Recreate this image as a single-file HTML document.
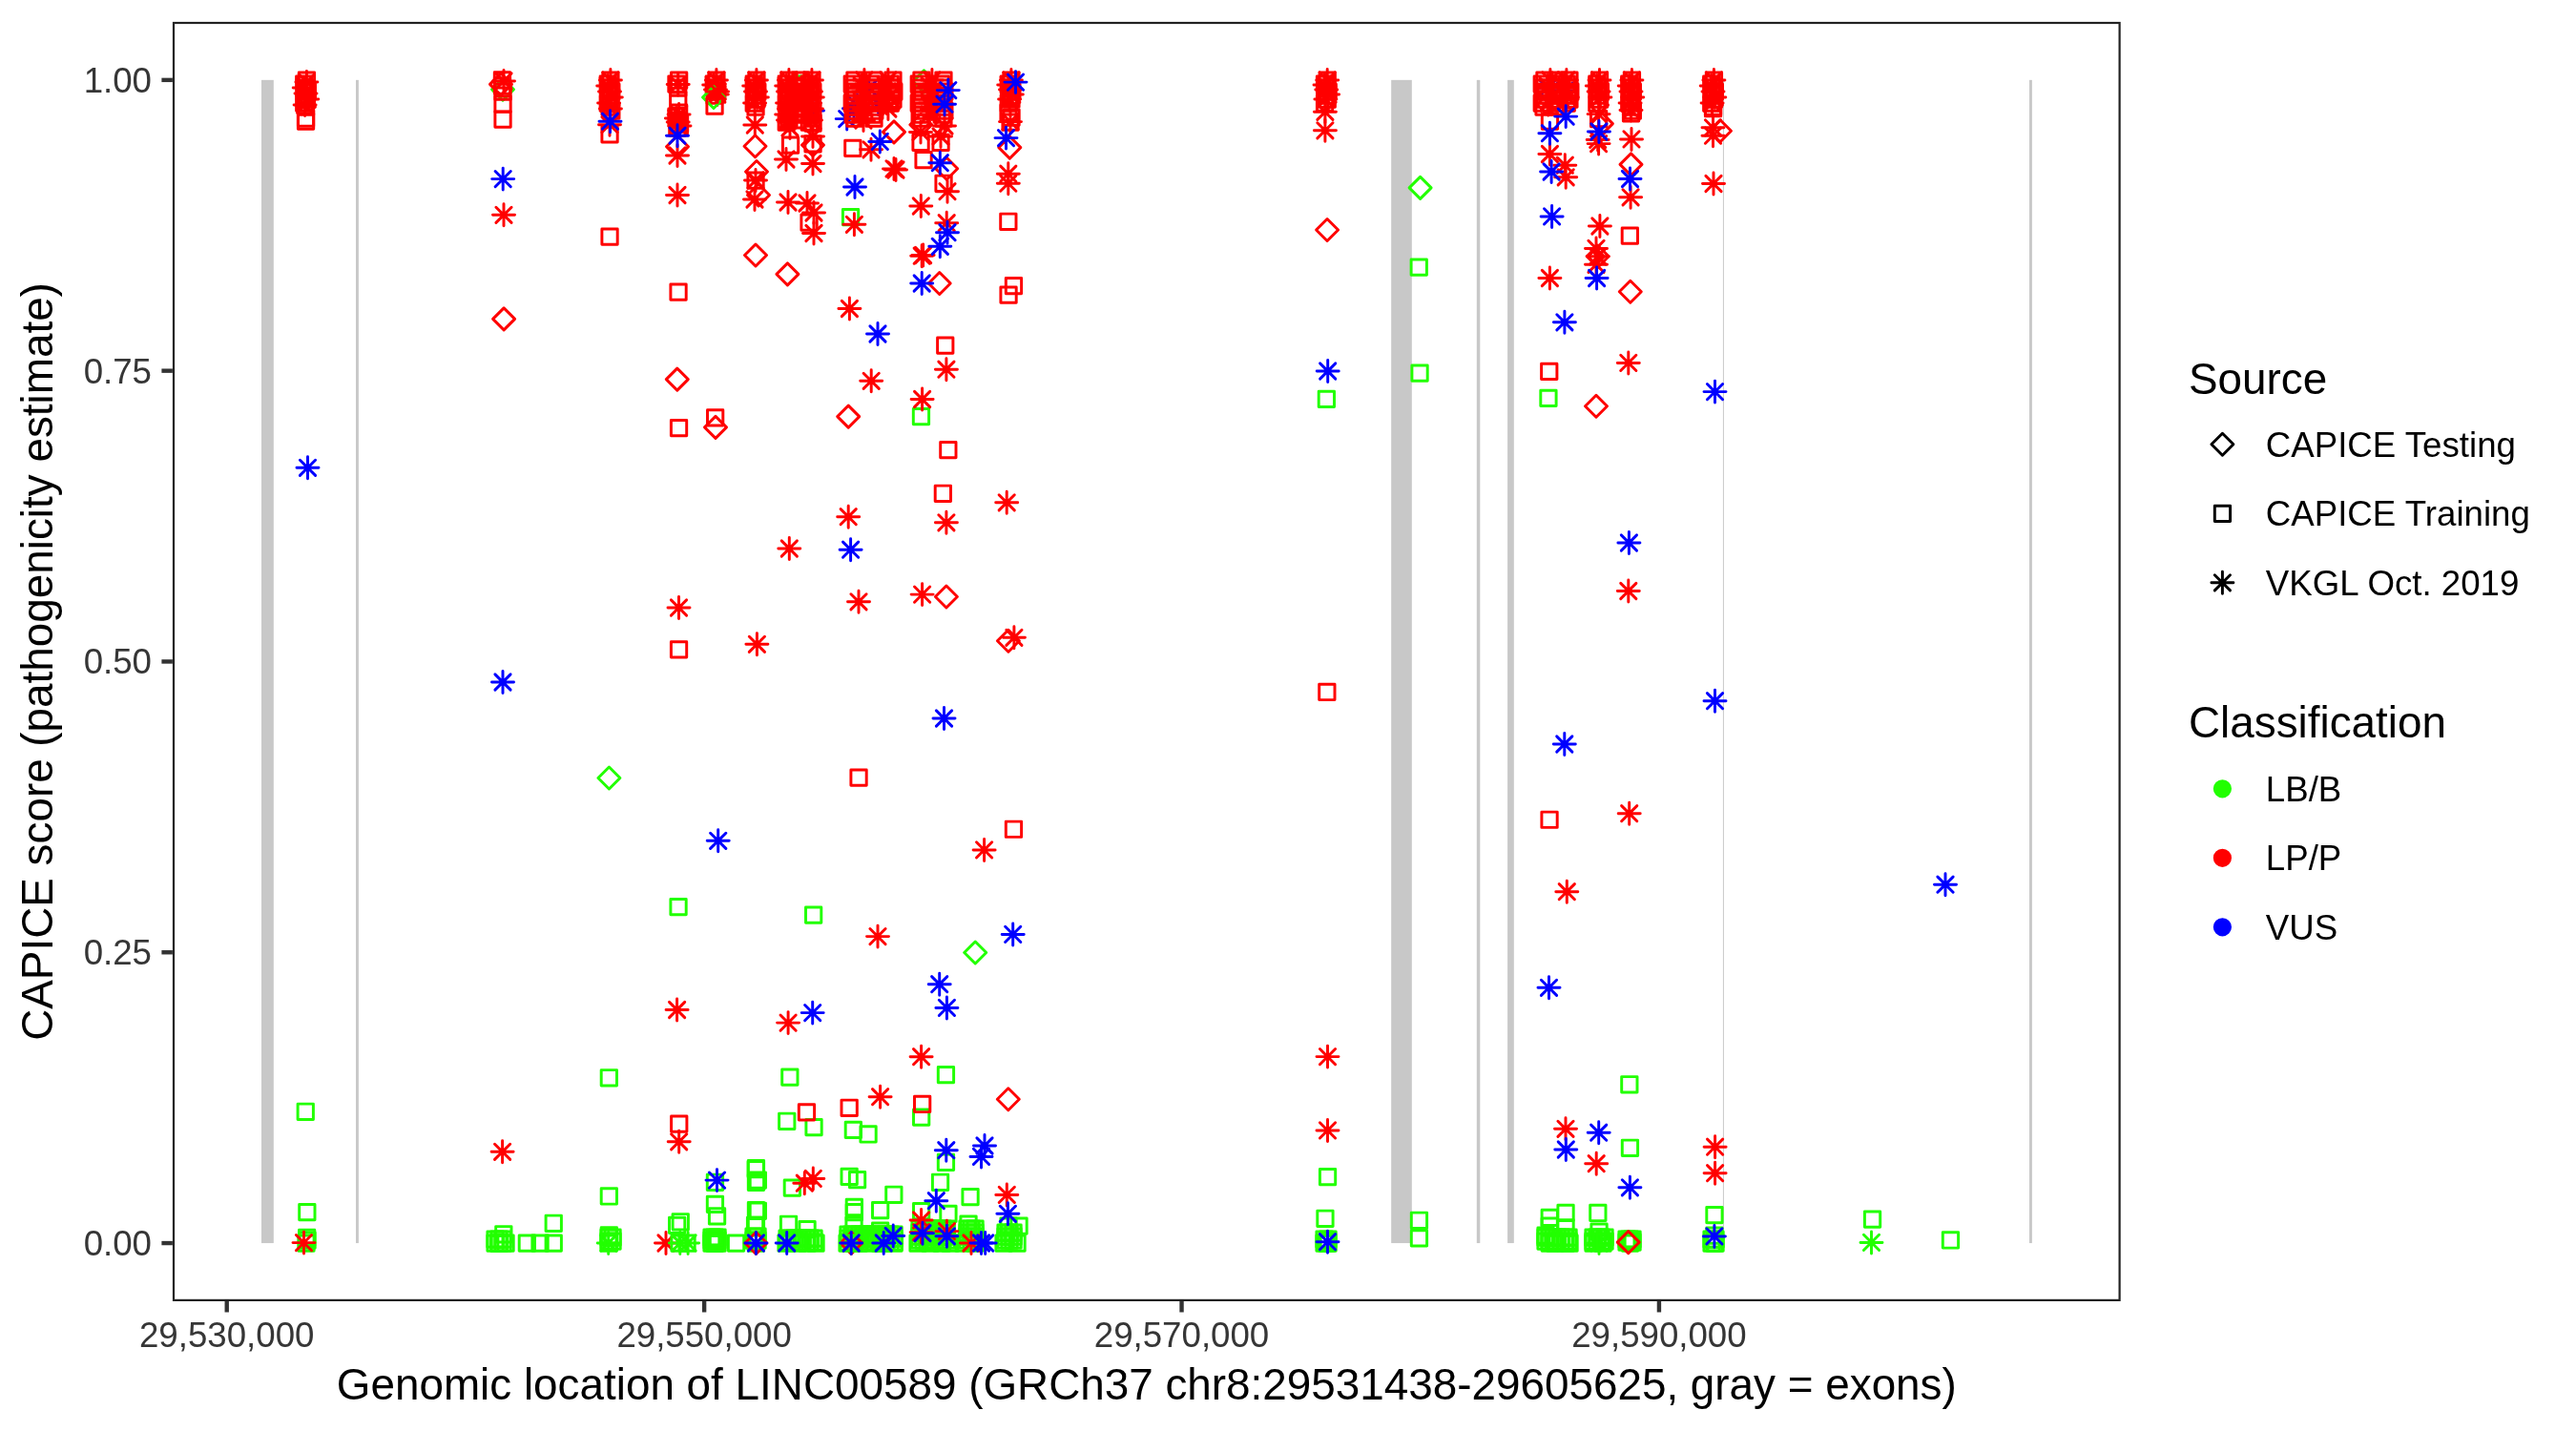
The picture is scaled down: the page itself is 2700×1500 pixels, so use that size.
<!DOCTYPE html><html><head><meta charset="utf-8"><style>html,body{margin:0;padding:0;background:#fff;}svg{display:block;}text{font-family:"Liberation Sans",sans-serif;}svg{will-change:transform;}</style></head><body>
<svg width="2700" height="1500" viewBox="0 0 2700 1500">
<rect x="0" y="0" width="2700" height="1500" fill="#fff"/>
<rect x="274.00" y="83.86" width="12.80" height="1219.20" fill="#C8C8C8"/>
<rect x="373.00" y="83.86" width="2.90" height="1219.20" fill="#C8C8C8"/>
<rect x="1458.20" y="83.86" width="21.60" height="1219.20" fill="#C8C8C8"/>
<rect x="1547.80" y="83.86" width="3.50" height="1219.20" fill="#C8C8C8"/>
<rect x="1580.10" y="83.86" width="6.70" height="1219.20" fill="#C8C8C8"/>
<rect x="1805.90" y="83.86" width="1.00" height="1219.20" fill="#C8C8C8"/>
<rect x="2127.00" y="83.86" width="2.90" height="1219.20" fill="#C8C8C8"/>
<g fill="none" stroke-width="2.95" stroke-linecap="round" stroke-linejoin="round">
<path d="M527.0 82.3L538.5 93.8L527.0 105.3L515.5 93.8Z" stroke="#22FF00"/>
<rect x="833.9" y="79.9" width="16.3" height="16.3" stroke="#22FF00"/>
<rect x="883.4" y="219.5" width="16.3" height="16.3" stroke="#22FF00"/>
<path d="M968.4 73.9L979.9 85.4L968.4 96.9L956.9 85.4Z" stroke="#22FF00"/>
<rect x="957.3" y="428.5" width="16.3" height="16.3" stroke="#22FF00"/>
<path d="M638.4 804.0L649.9 815.5L638.4 827.0L626.9 815.5Z" stroke="#22FF00"/>
<rect x="702.9" y="942.5" width="16.3" height="16.3" stroke="#22FF00"/>
<rect x="844.5" y="950.9" width="16.3" height="16.3" stroke="#22FF00"/>
<path d="M1022.2 987.0L1033.7 998.5L1022.2 1010.0L1010.7 998.5Z" stroke="#22FF00"/>
<rect x="630.2" y="1121.6" width="16.3" height="16.3" stroke="#22FF00"/>
<rect x="741.3" y="1231.1" width="16.3" height="16.3" stroke="#22FF00"/>
<rect x="630.2" y="1245.8" width="16.3" height="16.3" stroke="#22FF00"/>
<rect x="514.9" y="1294.9" width="16.3" height="16.3" stroke="#22FF00"/>
<rect x="521.9" y="1294.9" width="16.3" height="16.3" stroke="#22FF00"/>
<rect x="519.7" y="1285.6" width="16.3" height="16.3" stroke="#22FF00"/>
<rect x="544.2" y="1294.9" width="16.3" height="16.3" stroke="#22FF00"/>
<rect x="557.9" y="1294.9" width="16.3" height="16.3" stroke="#22FF00"/>
<rect x="572.1" y="1294.9" width="16.3" height="16.3" stroke="#22FF00"/>
<rect x="572.1" y="1274.1" width="16.3" height="16.3" stroke="#22FF00"/>
<rect x="630.2" y="1294.9" width="16.3" height="16.3" stroke="#22FF00"/>
<rect x="630.2" y="1286.7" width="16.3" height="16.3" stroke="#22FF00"/>
<path d="M629.6 1294.9L645.8 1311.1M629.6 1311.1L645.8 1294.9M626.2 1303.0L649.2 1303.0M637.7 1291.5L637.7 1314.5" stroke="#22FF00"/>
<path d="M689.9 1294.9L706.1 1311.1M689.9 1311.1L706.1 1294.9M686.5 1303.0L709.5 1303.0M698.0 1291.5L698.0 1314.5" stroke="#FF0000"/>
<rect x="701.5" y="1276.2" width="16.3" height="16.3" stroke="#22FF00"/>
<rect x="705.1" y="1272.6" width="16.3" height="16.3" stroke="#22FF00"/>
<rect x="703.9" y="1294.9" width="16.3" height="16.3" stroke="#22FF00"/>
<rect x="711.9" y="1294.9" width="16.3" height="16.3" stroke="#22FF00"/>
<path d="M704.7 1294.9L720.9 1311.1M704.7 1311.1L720.9 1294.9M701.3 1303.0L724.3 1303.0M712.8 1291.5L712.8 1314.5" stroke="#22FF00"/>
<path d="M713.0 1294.9L729.2 1311.1M713.0 1311.1L729.2 1294.9M709.6 1303.0L732.6 1303.0M721.1 1291.5L721.1 1314.5" stroke="#22FF00"/>
<rect x="741.3" y="1254.2" width="16.3" height="16.3" stroke="#22FF00"/>
<rect x="743.4" y="1266.7" width="16.3" height="16.3" stroke="#22FF00"/>
<rect x="741.3" y="1294.9" width="16.3" height="16.3" stroke="#22FF00"/>
<rect x="763.4" y="1294.9" width="16.3" height="16.3" stroke="#22FF00"/>
<rect x="784.3" y="1216.4" width="16.3" height="16.3" stroke="#22FF00"/>
<rect x="784.3" y="1231.1" width="16.3" height="16.3" stroke="#22FF00"/>
<rect x="784.3" y="1260.5" width="16.3" height="16.3" stroke="#22FF00"/>
<rect x="784.3" y="1276.2" width="16.3" height="16.3" stroke="#22FF00"/>
<rect x="784.3" y="1294.9" width="16.3" height="16.3" stroke="#22FF00"/>
<rect x="819.7" y="1121.0" width="16.3" height="16.3" stroke="#22FF00"/>
<rect x="983.3" y="1118.5" width="16.3" height="16.3" stroke="#22FF00"/>
<rect x="816.6" y="1167.1" width="16.3" height="16.3" stroke="#22FF00"/>
<rect x="844.9" y="1173.4" width="16.3" height="16.3" stroke="#22FF00"/>
<rect x="886.2" y="1176.2" width="16.3" height="16.3" stroke="#22FF00"/>
<rect x="901.9" y="1180.8" width="16.3" height="16.3" stroke="#22FF00"/>
<rect x="957.5" y="1162.9" width="16.3" height="16.3" stroke="#22FF00"/>
<rect x="983.3" y="1210.1" width="16.3" height="16.3" stroke="#22FF00"/>
<rect x="784.1" y="1217.5" width="16.3" height="16.3" stroke="#22FF00"/>
<rect x="786.2" y="1229.0" width="16.3" height="16.3" stroke="#22FF00"/>
<rect x="822.2" y="1237.0" width="16.3" height="16.3" stroke="#22FF00"/>
<rect x="882.0" y="1225.2" width="16.3" height="16.3" stroke="#22FF00"/>
<rect x="890.4" y="1228.4" width="16.3" height="16.3" stroke="#22FF00"/>
<rect x="977.4" y="1231.1" width="16.3" height="16.3" stroke="#22FF00"/>
<rect x="928.7" y="1244.1" width="16.3" height="16.3" stroke="#22FF00"/>
<rect x="1008.9" y="1246.4" width="16.3" height="16.3" stroke="#22FF00"/>
<rect x="786.2" y="1261.1" width="16.3" height="16.3" stroke="#22FF00"/>
<rect x="783.4" y="1276.2" width="16.3" height="16.3" stroke="#22FF00"/>
<rect x="887.2" y="1257.3" width="16.3" height="16.3" stroke="#22FF00"/>
<rect x="887.2" y="1262.5" width="16.3" height="16.3" stroke="#22FF00"/>
<rect x="886.9" y="1275.9" width="16.3" height="16.3" stroke="#22FF00"/>
<rect x="886.9" y="1294.9" width="16.3" height="16.3" stroke="#22FF00"/>
<rect x="914.5" y="1260.5" width="16.3" height="16.3" stroke="#22FF00"/>
<rect x="914.5" y="1281.9" width="16.3" height="16.3" stroke="#22FF00"/>
<rect x="914.5" y="1294.9" width="16.3" height="16.3" stroke="#22FF00"/>
<rect x="957.5" y="1261.5" width="16.3" height="16.3" stroke="#22FF00"/>
<rect x="985.8" y="1264.2" width="16.3" height="16.3" stroke="#22FF00"/>
<rect x="818.4" y="1275.1" width="16.3" height="16.3" stroke="#22FF00"/>
<rect x="837.9" y="1280.4" width="16.3" height="16.3" stroke="#22FF00"/>
<rect x="815.9" y="1294.9" width="16.3" height="16.3" stroke="#22FF00"/>
<rect x="827.9" y="1294.9" width="16.3" height="16.3" stroke="#22FF00"/>
<rect x="837.9" y="1294.9" width="16.3" height="16.3" stroke="#22FF00"/>
<rect x="846.9" y="1294.9" width="16.3" height="16.3" stroke="#22FF00"/>
<rect x="903.9" y="1294.9" width="16.3" height="16.3" stroke="#22FF00"/>
<rect x="916.9" y="1294.9" width="16.3" height="16.3" stroke="#22FF00"/>
<rect x="928.9" y="1294.9" width="16.3" height="16.3" stroke="#22FF00"/>
<rect x="953.9" y="1294.9" width="16.3" height="16.3" stroke="#22FF00"/>
<rect x="966.9" y="1294.9" width="16.3" height="16.3" stroke="#22FF00"/>
<rect x="978.9" y="1294.9" width="16.3" height="16.3" stroke="#22FF00"/>
<rect x="987.9" y="1294.9" width="16.3" height="16.3" stroke="#22FF00"/>
<rect x="1001.9" y="1294.9" width="16.3" height="16.3" stroke="#22FF00"/>
<rect x="1013.9" y="1294.9" width="16.3" height="16.3" stroke="#22FF00"/>
<rect x="1006.9" y="1274.9" width="16.3" height="16.3" stroke="#22FF00"/>
<rect x="1043.9" y="1294.9" width="16.3" height="16.3" stroke="#22FF00"/>
<rect x="1057.9" y="1294.9" width="16.3" height="16.3" stroke="#22FF00"/>
<rect x="1048.9" y="1276.9" width="16.3" height="16.3" stroke="#22FF00"/>
<rect x="1059.9" y="1276.9" width="16.3" height="16.3" stroke="#22FF00"/>
<rect x="312.1" y="1157.1" width="16.3" height="16.3" stroke="#22FF00"/>
<rect x="313.7" y="1262.4" width="16.3" height="16.3" stroke="#22FF00"/>
<rect x="313.5" y="1289.2" width="16.3" height="16.3" stroke="#22FF00"/>
<rect x="312.8" y="1294.9" width="16.3" height="16.3" stroke="#22FF00"/>
<rect x="313.9" y="1291.9" width="16.3" height="16.3" stroke="#22FF00"/>
<rect x="1382.2" y="410.3" width="16.3" height="16.3" stroke="#22FF00"/>
<path d="M1488.6 185.4L1500.1 196.9L1488.6 208.4L1477.1 196.9Z" stroke="#22FF00"/>
<rect x="1479.1" y="272.0" width="16.3" height="16.3" stroke="#22FF00"/>
<rect x="1479.9" y="382.9" width="16.3" height="16.3" stroke="#22FF00"/>
<rect x="1383.4" y="1225.5" width="16.3" height="16.3" stroke="#22FF00"/>
<rect x="1380.8" y="1269.1" width="16.3" height="16.3" stroke="#22FF00"/>
<rect x="1382.4" y="1294.9" width="16.3" height="16.3" stroke="#22FF00"/>
<rect x="1383.4" y="1291.9" width="16.3" height="16.3" stroke="#22FF00"/>
<rect x="1479.3" y="1271.1" width="16.3" height="16.3" stroke="#22FF00"/>
<rect x="1479.3" y="1289.7" width="16.3" height="16.3" stroke="#22FF00"/>
<rect x="1614.8" y="409.2" width="16.3" height="16.3" stroke="#22FF00"/>
<rect x="1699.7" y="1128.6" width="16.3" height="16.3" stroke="#22FF00"/>
<rect x="1700.3" y="1195.1" width="16.3" height="16.3" stroke="#22FF00"/>
<rect x="1616.1" y="1268.2" width="16.3" height="16.3" stroke="#22FF00"/>
<rect x="1632.9" y="1263.3" width="16.3" height="16.3" stroke="#22FF00"/>
<rect x="1616.1" y="1276.9" width="16.3" height="16.3" stroke="#22FF00"/>
<rect x="1632.9" y="1278.7" width="16.3" height="16.3" stroke="#22FF00"/>
<rect x="1616.1" y="1294.9" width="16.3" height="16.3" stroke="#22FF00"/>
<rect x="1632.9" y="1294.9" width="16.3" height="16.3" stroke="#22FF00"/>
<rect x="1621.9" y="1294.9" width="16.3" height="16.3" stroke="#22FF00"/>
<rect x="1636.9" y="1294.9" width="16.3" height="16.3" stroke="#22FF00"/>
<rect x="1611.9" y="1286.9" width="16.3" height="16.3" stroke="#22FF00"/>
<rect x="1666.7" y="1263.3" width="16.3" height="16.3" stroke="#22FF00"/>
<rect x="1667.9" y="1282.9" width="16.3" height="16.3" stroke="#22FF00"/>
<rect x="1661.9" y="1294.9" width="16.3" height="16.3" stroke="#22FF00"/>
<rect x="1671.9" y="1294.9" width="16.3" height="16.3" stroke="#22FF00"/>
<path d="M1667.9 1294.9L1684.1 1311.1M1667.9 1311.1L1684.1 1294.9M1664.5 1303.0L1687.5 1303.0M1676.0 1291.5L1676.0 1314.5" stroke="#22FF00"/>
<rect x="1700.4" y="1294.9" width="16.3" height="16.3" stroke="#22FF00"/>
<rect x="1700.4" y="1291.9" width="16.3" height="16.3" stroke="#22FF00"/>
<rect x="1788.8" y="1265.4" width="16.3" height="16.3" stroke="#22FF00"/>
<rect x="1788.8" y="1294.9" width="16.3" height="16.3" stroke="#22FF00"/>
<rect x="1788.8" y="1286.9" width="16.3" height="16.3" stroke="#22FF00"/>
<rect x="1954.4" y="1270.0" width="16.3" height="16.3" stroke="#22FF00"/>
<path d="M1953.4 1294.3L1969.6 1310.5M1953.4 1310.5L1969.6 1294.3M1950.0 1302.4L1973.0 1302.4M1961.5 1290.9L1961.5 1313.9" stroke="#22FF00"/>
<rect x="2036.3" y="1291.8" width="16.3" height="16.3" stroke="#22FF00"/>
<rect x="510.9" y="1290.9" width="16.3" height="16.3" stroke="#22FF00"/>
<rect x="510.9" y="1294.9" width="16.3" height="16.3" stroke="#22FF00"/>
<rect x="514.9" y="1290.9" width="16.3" height="16.3" stroke="#22FF00"/>
<rect x="514.9" y="1294.9" width="16.3" height="16.3" stroke="#22FF00"/>
<rect x="518.9" y="1290.9" width="16.3" height="16.3" stroke="#22FF00"/>
<rect x="518.9" y="1294.9" width="16.3" height="16.3" stroke="#22FF00"/>
<rect x="629.9" y="1288.9" width="16.3" height="16.3" stroke="#22FF00"/>
<rect x="629.9" y="1292.9" width="16.3" height="16.3" stroke="#22FF00"/>
<rect x="633.9" y="1288.9" width="16.3" height="16.3" stroke="#22FF00"/>
<rect x="633.9" y="1292.9" width="16.3" height="16.3" stroke="#22FF00"/>
<rect x="737.9" y="1288.9" width="16.3" height="16.3" stroke="#22FF00"/>
<rect x="737.9" y="1291.9" width="16.3" height="16.3" stroke="#22FF00"/>
<rect x="737.9" y="1294.9" width="16.3" height="16.3" stroke="#22FF00"/>
<rect x="740.9" y="1288.9" width="16.3" height="16.3" stroke="#22FF00"/>
<rect x="740.9" y="1291.9" width="16.3" height="16.3" stroke="#22FF00"/>
<rect x="740.9" y="1294.9" width="16.3" height="16.3" stroke="#22FF00"/>
<rect x="743.9" y="1288.9" width="16.3" height="16.3" stroke="#22FF00"/>
<rect x="743.9" y="1291.9" width="16.3" height="16.3" stroke="#22FF00"/>
<rect x="743.9" y="1294.9" width="16.3" height="16.3" stroke="#22FF00"/>
<rect x="781.9" y="1287.9" width="16.3" height="16.3" stroke="#22FF00"/>
<rect x="781.9" y="1291.9" width="16.3" height="16.3" stroke="#22FF00"/>
<rect x="785.9" y="1287.9" width="16.3" height="16.3" stroke="#22FF00"/>
<rect x="785.9" y="1291.9" width="16.3" height="16.3" stroke="#22FF00"/>
<rect x="816.9" y="1289.9" width="16.3" height="16.3" stroke="#22FF00"/>
<rect x="816.9" y="1293.9" width="16.3" height="16.3" stroke="#22FF00"/>
<rect x="820.9" y="1289.9" width="16.3" height="16.3" stroke="#22FF00"/>
<rect x="820.9" y="1293.9" width="16.3" height="16.3" stroke="#22FF00"/>
<rect x="824.9" y="1289.9" width="16.3" height="16.3" stroke="#22FF00"/>
<rect x="824.9" y="1293.9" width="16.3" height="16.3" stroke="#22FF00"/>
<rect x="828.9" y="1289.9" width="16.3" height="16.3" stroke="#22FF00"/>
<rect x="828.9" y="1293.9" width="16.3" height="16.3" stroke="#22FF00"/>
<rect x="832.9" y="1289.9" width="16.3" height="16.3" stroke="#22FF00"/>
<rect x="832.9" y="1293.9" width="16.3" height="16.3" stroke="#22FF00"/>
<rect x="836.9" y="1289.9" width="16.3" height="16.3" stroke="#22FF00"/>
<rect x="836.9" y="1293.9" width="16.3" height="16.3" stroke="#22FF00"/>
<rect x="840.9" y="1289.9" width="16.3" height="16.3" stroke="#22FF00"/>
<rect x="840.9" y="1293.9" width="16.3" height="16.3" stroke="#22FF00"/>
<rect x="844.9" y="1289.9" width="16.3" height="16.3" stroke="#22FF00"/>
<rect x="844.9" y="1293.9" width="16.3" height="16.3" stroke="#22FF00"/>
<rect x="880.9" y="1285.9" width="16.3" height="16.3" stroke="#22FF00"/>
<rect x="880.9" y="1289.9" width="16.3" height="16.3" stroke="#22FF00"/>
<rect x="880.9" y="1293.9" width="16.3" height="16.3" stroke="#22FF00"/>
<rect x="884.9" y="1285.9" width="16.3" height="16.3" stroke="#22FF00"/>
<rect x="884.9" y="1289.9" width="16.3" height="16.3" stroke="#22FF00"/>
<rect x="884.9" y="1293.9" width="16.3" height="16.3" stroke="#22FF00"/>
<rect x="888.9" y="1285.9" width="16.3" height="16.3" stroke="#22FF00"/>
<rect x="888.9" y="1289.9" width="16.3" height="16.3" stroke="#22FF00"/>
<rect x="888.9" y="1293.9" width="16.3" height="16.3" stroke="#22FF00"/>
<rect x="892.9" y="1285.9" width="16.3" height="16.3" stroke="#22FF00"/>
<rect x="892.9" y="1289.9" width="16.3" height="16.3" stroke="#22FF00"/>
<rect x="892.9" y="1293.9" width="16.3" height="16.3" stroke="#22FF00"/>
<rect x="896.9" y="1285.9" width="16.3" height="16.3" stroke="#22FF00"/>
<rect x="896.9" y="1289.9" width="16.3" height="16.3" stroke="#22FF00"/>
<rect x="896.9" y="1293.9" width="16.3" height="16.3" stroke="#22FF00"/>
<rect x="900.9" y="1285.9" width="16.3" height="16.3" stroke="#22FF00"/>
<rect x="900.9" y="1289.9" width="16.3" height="16.3" stroke="#22FF00"/>
<rect x="900.9" y="1293.9" width="16.3" height="16.3" stroke="#22FF00"/>
<rect x="904.9" y="1285.9" width="16.3" height="16.3" stroke="#22FF00"/>
<rect x="904.9" y="1289.9" width="16.3" height="16.3" stroke="#22FF00"/>
<rect x="904.9" y="1293.9" width="16.3" height="16.3" stroke="#22FF00"/>
<rect x="908.9" y="1285.9" width="16.3" height="16.3" stroke="#22FF00"/>
<rect x="908.9" y="1289.9" width="16.3" height="16.3" stroke="#22FF00"/>
<rect x="908.9" y="1293.9" width="16.3" height="16.3" stroke="#22FF00"/>
<rect x="912.9" y="1285.9" width="16.3" height="16.3" stroke="#22FF00"/>
<rect x="912.9" y="1289.9" width="16.3" height="16.3" stroke="#22FF00"/>
<rect x="912.9" y="1293.9" width="16.3" height="16.3" stroke="#22FF00"/>
<rect x="916.9" y="1285.9" width="16.3" height="16.3" stroke="#22FF00"/>
<rect x="916.9" y="1289.9" width="16.3" height="16.3" stroke="#22FF00"/>
<rect x="916.9" y="1293.9" width="16.3" height="16.3" stroke="#22FF00"/>
<rect x="920.9" y="1285.9" width="16.3" height="16.3" stroke="#22FF00"/>
<rect x="920.9" y="1289.9" width="16.3" height="16.3" stroke="#22FF00"/>
<rect x="920.9" y="1293.9" width="16.3" height="16.3" stroke="#22FF00"/>
<rect x="924.9" y="1285.9" width="16.3" height="16.3" stroke="#22FF00"/>
<rect x="924.9" y="1289.9" width="16.3" height="16.3" stroke="#22FF00"/>
<rect x="924.9" y="1293.9" width="16.3" height="16.3" stroke="#22FF00"/>
<rect x="928.9" y="1285.9" width="16.3" height="16.3" stroke="#22FF00"/>
<rect x="928.9" y="1289.9" width="16.3" height="16.3" stroke="#22FF00"/>
<rect x="928.9" y="1293.9" width="16.3" height="16.3" stroke="#22FF00"/>
<rect x="955.9" y="1279.9" width="16.3" height="16.3" stroke="#22FF00"/>
<rect x="955.9" y="1283.9" width="16.3" height="16.3" stroke="#22FF00"/>
<rect x="955.9" y="1287.9" width="16.3" height="16.3" stroke="#22FF00"/>
<rect x="955.9" y="1291.9" width="16.3" height="16.3" stroke="#22FF00"/>
<rect x="959.9" y="1279.9" width="16.3" height="16.3" stroke="#22FF00"/>
<rect x="959.9" y="1283.9" width="16.3" height="16.3" stroke="#22FF00"/>
<rect x="959.9" y="1287.9" width="16.3" height="16.3" stroke="#22FF00"/>
<rect x="959.9" y="1291.9" width="16.3" height="16.3" stroke="#22FF00"/>
<rect x="963.9" y="1279.9" width="16.3" height="16.3" stroke="#22FF00"/>
<rect x="963.9" y="1283.9" width="16.3" height="16.3" stroke="#22FF00"/>
<rect x="963.9" y="1287.9" width="16.3" height="16.3" stroke="#22FF00"/>
<rect x="963.9" y="1291.9" width="16.3" height="16.3" stroke="#22FF00"/>
<rect x="967.9" y="1279.9" width="16.3" height="16.3" stroke="#22FF00"/>
<rect x="967.9" y="1283.9" width="16.3" height="16.3" stroke="#22FF00"/>
<rect x="967.9" y="1287.9" width="16.3" height="16.3" stroke="#22FF00"/>
<rect x="967.9" y="1291.9" width="16.3" height="16.3" stroke="#22FF00"/>
<rect x="971.9" y="1279.9" width="16.3" height="16.3" stroke="#22FF00"/>
<rect x="971.9" y="1283.9" width="16.3" height="16.3" stroke="#22FF00"/>
<rect x="971.9" y="1287.9" width="16.3" height="16.3" stroke="#22FF00"/>
<rect x="971.9" y="1291.9" width="16.3" height="16.3" stroke="#22FF00"/>
<rect x="975.9" y="1279.9" width="16.3" height="16.3" stroke="#22FF00"/>
<rect x="975.9" y="1283.9" width="16.3" height="16.3" stroke="#22FF00"/>
<rect x="975.9" y="1287.9" width="16.3" height="16.3" stroke="#22FF00"/>
<rect x="975.9" y="1291.9" width="16.3" height="16.3" stroke="#22FF00"/>
<rect x="979.9" y="1279.9" width="16.3" height="16.3" stroke="#22FF00"/>
<rect x="979.9" y="1283.9" width="16.3" height="16.3" stroke="#22FF00"/>
<rect x="979.9" y="1287.9" width="16.3" height="16.3" stroke="#22FF00"/>
<rect x="979.9" y="1291.9" width="16.3" height="16.3" stroke="#22FF00"/>
<rect x="983.9" y="1279.9" width="16.3" height="16.3" stroke="#22FF00"/>
<rect x="983.9" y="1283.9" width="16.3" height="16.3" stroke="#22FF00"/>
<rect x="983.9" y="1287.9" width="16.3" height="16.3" stroke="#22FF00"/>
<rect x="983.9" y="1291.9" width="16.3" height="16.3" stroke="#22FF00"/>
<rect x="1005.9" y="1279.9" width="16.3" height="16.3" stroke="#22FF00"/>
<rect x="1005.9" y="1283.9" width="16.3" height="16.3" stroke="#22FF00"/>
<rect x="1005.9" y="1287.9" width="16.3" height="16.3" stroke="#22FF00"/>
<rect x="1005.9" y="1291.9" width="16.3" height="16.3" stroke="#22FF00"/>
<rect x="1009.9" y="1279.9" width="16.3" height="16.3" stroke="#22FF00"/>
<rect x="1009.9" y="1283.9" width="16.3" height="16.3" stroke="#22FF00"/>
<rect x="1009.9" y="1287.9" width="16.3" height="16.3" stroke="#22FF00"/>
<rect x="1009.9" y="1291.9" width="16.3" height="16.3" stroke="#22FF00"/>
<rect x="1013.9" y="1279.9" width="16.3" height="16.3" stroke="#22FF00"/>
<rect x="1013.9" y="1283.9" width="16.3" height="16.3" stroke="#22FF00"/>
<rect x="1013.9" y="1287.9" width="16.3" height="16.3" stroke="#22FF00"/>
<rect x="1013.9" y="1291.9" width="16.3" height="16.3" stroke="#22FF00"/>
<rect x="1045.9" y="1283.9" width="16.3" height="16.3" stroke="#22FF00"/>
<rect x="1045.9" y="1287.9" width="16.3" height="16.3" stroke="#22FF00"/>
<rect x="1045.9" y="1291.9" width="16.3" height="16.3" stroke="#22FF00"/>
<rect x="1049.9" y="1283.9" width="16.3" height="16.3" stroke="#22FF00"/>
<rect x="1049.9" y="1287.9" width="16.3" height="16.3" stroke="#22FF00"/>
<rect x="1049.9" y="1291.9" width="16.3" height="16.3" stroke="#22FF00"/>
<rect x="1053.9" y="1283.9" width="16.3" height="16.3" stroke="#22FF00"/>
<rect x="1053.9" y="1287.9" width="16.3" height="16.3" stroke="#22FF00"/>
<rect x="1053.9" y="1291.9" width="16.3" height="16.3" stroke="#22FF00"/>
<rect x="1379.9" y="1290.9" width="16.3" height="16.3" stroke="#22FF00"/>
<rect x="1379.9" y="1294.9" width="16.3" height="16.3" stroke="#22FF00"/>
<rect x="1383.9" y="1290.9" width="16.3" height="16.3" stroke="#22FF00"/>
<rect x="1383.9" y="1294.9" width="16.3" height="16.3" stroke="#22FF00"/>
<rect x="1611.9" y="1288.9" width="16.3" height="16.3" stroke="#22FF00"/>
<rect x="1611.9" y="1292.9" width="16.3" height="16.3" stroke="#22FF00"/>
<rect x="1615.9" y="1288.9" width="16.3" height="16.3" stroke="#22FF00"/>
<rect x="1615.9" y="1292.9" width="16.3" height="16.3" stroke="#22FF00"/>
<rect x="1619.9" y="1288.9" width="16.3" height="16.3" stroke="#22FF00"/>
<rect x="1619.9" y="1292.9" width="16.3" height="16.3" stroke="#22FF00"/>
<rect x="1623.9" y="1288.9" width="16.3" height="16.3" stroke="#22FF00"/>
<rect x="1623.9" y="1292.9" width="16.3" height="16.3" stroke="#22FF00"/>
<rect x="1627.9" y="1288.9" width="16.3" height="16.3" stroke="#22FF00"/>
<rect x="1627.9" y="1292.9" width="16.3" height="16.3" stroke="#22FF00"/>
<rect x="1631.9" y="1288.9" width="16.3" height="16.3" stroke="#22FF00"/>
<rect x="1631.9" y="1292.9" width="16.3" height="16.3" stroke="#22FF00"/>
<rect x="1635.9" y="1288.9" width="16.3" height="16.3" stroke="#22FF00"/>
<rect x="1635.9" y="1292.9" width="16.3" height="16.3" stroke="#22FF00"/>
<rect x="1661.9" y="1288.9" width="16.3" height="16.3" stroke="#22FF00"/>
<rect x="1661.9" y="1292.9" width="16.3" height="16.3" stroke="#22FF00"/>
<rect x="1665.9" y="1288.9" width="16.3" height="16.3" stroke="#22FF00"/>
<rect x="1665.9" y="1292.9" width="16.3" height="16.3" stroke="#22FF00"/>
<rect x="1669.9" y="1288.9" width="16.3" height="16.3" stroke="#22FF00"/>
<rect x="1669.9" y="1292.9" width="16.3" height="16.3" stroke="#22FF00"/>
<rect x="1673.9" y="1288.9" width="16.3" height="16.3" stroke="#22FF00"/>
<rect x="1673.9" y="1292.9" width="16.3" height="16.3" stroke="#22FF00"/>
<rect x="1696.9" y="1290.9" width="16.3" height="16.3" stroke="#22FF00"/>
<rect x="1696.9" y="1293.9" width="16.3" height="16.3" stroke="#22FF00"/>
<rect x="1699.9" y="1290.9" width="16.3" height="16.3" stroke="#22FF00"/>
<rect x="1699.9" y="1293.9" width="16.3" height="16.3" stroke="#22FF00"/>
<rect x="1702.9" y="1290.9" width="16.3" height="16.3" stroke="#22FF00"/>
<rect x="1702.9" y="1293.9" width="16.3" height="16.3" stroke="#22FF00"/>
<rect x="1785.9" y="1290.9" width="16.3" height="16.3" stroke="#22FF00"/>
<rect x="1785.9" y="1294.9" width="16.3" height="16.3" stroke="#22FF00"/>
<rect x="1789.9" y="1290.9" width="16.3" height="16.3" stroke="#22FF00"/>
<rect x="1789.9" y="1294.9" width="16.3" height="16.3" stroke="#22FF00"/>
<path d="M843.9 107.9L860.1 124.1M843.9 124.1L860.1 107.9M840.5 116.0L863.5 116.0M852.0 104.5L852.0 127.5" stroke="#0000FF"/>
<path d="M890.4 102.6L906.6 118.8M890.4 118.8L906.6 102.6M887.0 110.7L910.0 110.7M898.5 99.2L898.5 122.2" stroke="#0000FF"/>
<path d="M912.6 100.9L928.8 117.1M912.6 117.1L928.8 100.9M909.2 109.0L932.2 109.0M920.7 97.5L920.7 120.5" stroke="#0000FF"/>
<path d="M879.6 116.5L895.8 132.7M879.6 132.7L895.8 116.5M876.2 124.6L899.2 124.6M887.7 113.1L887.7 136.1" stroke="#0000FF"/>
<path d="M902.6 84.2L918.8 100.4M902.6 100.4L918.8 84.2M899.2 92.3L922.2 92.3M910.7 80.8L910.7 103.8" stroke="#0000FF"/>
<path d="M886.9 105.7L903.1 121.9M886.9 121.9L903.1 105.7M883.5 113.8L906.5 113.8M895.0 102.3L895.0 125.3" stroke="#0000FF"/>
<path d="M1613.9 83.9L1630.1 100.1M1613.9 100.1L1630.1 83.9M1610.5 92.0L1633.5 92.0M1622.0 80.5L1622.0 103.5" stroke="#0000FF"/>
<path d="M1632.2 87.1L1648.4 103.3M1632.2 103.3L1648.4 87.1M1628.8 95.2L1651.8 95.2M1640.3 83.7L1640.3 106.7" stroke="#0000FF"/>
<rect x="313.3" y="75.9" width="16.3" height="16.3" stroke="#FF0000"/>
<rect x="310.6" y="79.9" width="16.3" height="16.3" stroke="#FF0000"/>
<rect x="312.4" y="83.9" width="16.3" height="16.3" stroke="#FF0000"/>
<rect x="314.2" y="87.9" width="16.3" height="16.3" stroke="#FF0000"/>
<rect x="311.5" y="91.9" width="16.3" height="16.3" stroke="#FF0000"/>
<rect x="313.3" y="95.9" width="16.3" height="16.3" stroke="#FF0000"/>
<rect x="310.6" y="99.9" width="16.3" height="16.3" stroke="#FF0000"/>
<rect x="312.4" y="103.9" width="16.3" height="16.3" stroke="#FF0000"/>
<path d="M313.3 77.9L329.5 94.1M313.3 94.1L329.5 77.9M309.9 86.0L332.9 86.0M321.4 74.5L321.4 97.5" stroke="#FF0000"/>
<path d="M310.6 83.9L326.8 100.1M310.6 100.1L326.8 83.9M307.2 92.0L330.2 92.0M318.7 80.5L318.7 103.5" stroke="#FF0000"/>
<path d="M312.4 89.9L328.6 106.1M312.4 106.1L328.6 89.9M309.0 98.0L332.0 98.0M320.5 86.5L320.5 109.5" stroke="#FF0000"/>
<path d="M314.2 95.9L330.4 112.1M314.2 112.1L330.4 95.9M310.8 104.0L333.8 104.0M322.3 92.5L322.3 115.5" stroke="#FF0000"/>
<path d="M311.5 101.9L327.7 118.1M311.5 118.1L327.7 101.9M308.1 110.0L331.1 110.0M319.6 98.5L319.6 121.5" stroke="#FF0000"/>
<rect x="312.4" y="115.9" width="16.3" height="16.3" stroke="#FF0000"/>
<rect x="312.4" y="118.9" width="16.3" height="16.3" stroke="#FF0000"/>
<rect x="518.3" y="75.7" width="16.3" height="16.3" stroke="#FF0000"/>
<path d="M519.9 76.9L536.1 93.1M519.9 93.1L536.1 76.9M516.5 85.0L539.5 85.0M528.0 73.5L528.0 96.5" stroke="#FF0000"/>
<rect x="518.3" y="81.9" width="16.3" height="16.3" stroke="#FF0000"/>
<path d="M525.0 76.9L536.5 88.4L525.0 99.9L513.5 88.4Z" stroke="#FF0000"/>
<rect x="518.9" y="87.9" width="16.3" height="16.3" stroke="#FF0000"/>
<rect x="518.9" y="100.9" width="16.3" height="16.3" stroke="#FF0000"/>
<rect x="518.9" y="116.9" width="16.3" height="16.3" stroke="#FF0000"/>
<path d="M519.9 217.2L536.1 233.4M519.9 233.4L536.1 217.2M516.5 225.3L539.5 225.3M528.0 213.8L528.0 236.8" stroke="#FF0000"/>
<rect x="631.8" y="75.9" width="16.3" height="16.3" stroke="#FF0000"/>
<rect x="629.1" y="79.9" width="16.3" height="16.3" stroke="#FF0000"/>
<rect x="630.9" y="83.9" width="16.3" height="16.3" stroke="#FF0000"/>
<rect x="632.7" y="87.9" width="16.3" height="16.3" stroke="#FF0000"/>
<rect x="630.0" y="91.9" width="16.3" height="16.3" stroke="#FF0000"/>
<rect x="631.8" y="95.9" width="16.3" height="16.3" stroke="#FF0000"/>
<rect x="629.1" y="99.9" width="16.3" height="16.3" stroke="#FF0000"/>
<rect x="630.9" y="103.9" width="16.3" height="16.3" stroke="#FF0000"/>
<rect x="632.7" y="107.9" width="16.3" height="16.3" stroke="#FF0000"/>
<path d="M631.8 75.9L648.0 92.1M631.8 92.1L648.0 75.9M628.4 84.0L651.4 84.0M639.9 72.5L639.9 95.5" stroke="#FF0000"/>
<path d="M629.1 81.9L645.3 98.1M629.1 98.1L645.3 81.9M625.7 90.0L648.7 90.0M637.2 78.5L637.2 101.5" stroke="#FF0000"/>
<path d="M630.9 87.9L647.1 104.1M630.9 104.1L647.1 87.9M627.5 96.0L650.5 96.0M639.0 84.5L639.0 107.5" stroke="#FF0000"/>
<path d="M632.7 93.9L648.9 110.1M632.7 110.1L648.9 93.9M629.3 102.0L652.3 102.0M640.8 90.5L640.8 113.5" stroke="#FF0000"/>
<path d="M630.0 99.9L646.2 116.1M630.0 116.1L646.2 99.9M626.6 108.0L649.6 108.0M638.1 96.5L638.1 119.5" stroke="#FF0000"/>
<path d="M631.8 105.9L648.0 122.1M631.8 122.1L648.0 105.9M628.4 114.0L651.4 114.0M639.9 102.5L639.9 125.5" stroke="#FF0000"/>
<path d="M630.9 122.6L647.1 138.8M630.9 138.8L647.1 122.6M627.5 130.7L650.5 130.7M639.0 119.2L639.0 142.2" stroke="#FF0000"/>
<rect x="630.9" y="132.7" width="16.3" height="16.3" stroke="#FF0000"/>
<rect x="630.9" y="239.9" width="16.3" height="16.3" stroke="#FF0000"/>
<path d="M702.6 80.3L718.8 96.5M702.6 96.5L718.8 80.3M699.2 88.4L722.2 88.4M710.7 76.9L710.7 99.9" stroke="#FF0000"/>
<rect x="703.5" y="75.9" width="16.3" height="16.3" stroke="#FF0000"/>
<rect x="700.8" y="79.9" width="16.3" height="16.3" stroke="#FF0000"/>
<rect x="702.6" y="83.9" width="16.3" height="16.3" stroke="#FF0000"/>
<rect x="702.6" y="96.9" width="16.3" height="16.3" stroke="#FF0000"/>
<rect x="703.5" y="109.9" width="16.3" height="16.3" stroke="#FF0000"/>
<rect x="700.8" y="113.9" width="16.3" height="16.3" stroke="#FF0000"/>
<rect x="702.6" y="117.9" width="16.3" height="16.3" stroke="#FF0000"/>
<rect x="704.4" y="121.9" width="16.3" height="16.3" stroke="#FF0000"/>
<rect x="701.7" y="125.9" width="16.3" height="16.3" stroke="#FF0000"/>
<path d="M703.5 111.9L719.7 128.1M703.5 128.1L719.7 111.9M700.1 120.0L723.1 120.0M711.6 108.5L711.6 131.5" stroke="#FF0000"/>
<path d="M700.8 115.9L717.0 132.1M700.8 132.1L717.0 115.9M697.4 124.0L720.4 124.0M708.9 112.5L708.9 135.5" stroke="#FF0000"/>
<path d="M702.6 119.9L718.8 136.1M702.6 136.1L718.8 119.9M699.2 128.0L722.2 128.0M710.7 116.5L710.7 139.5" stroke="#FF0000"/>
<path d="M704.4 123.9L720.6 140.1M704.4 140.1L720.6 123.9M701.0 132.0L724.0 132.0M712.5 120.5L712.5 143.5" stroke="#FF0000"/>
<path d="M710.0 142.3L721.5 153.8L710.0 165.3L698.5 153.8Z" stroke="#FF0000"/>
<path d="M701.9 154.9L718.1 171.1M701.9 171.1L718.1 154.9M698.5 163.0L721.5 163.0M710.0 151.5L710.0 174.5" stroke="#FF0000"/>
<path d="M701.9 196.4L718.1 212.6M701.9 212.6L718.1 196.4M698.5 204.5L721.5 204.5M710.0 193.0L710.0 216.0" stroke="#FF0000"/>
<rect x="742.8" y="75.9" width="16.3" height="16.3" stroke="#FF0000"/>
<rect x="740.1" y="79.9" width="16.3" height="16.3" stroke="#FF0000"/>
<rect x="741.9" y="83.9" width="16.3" height="16.3" stroke="#FF0000"/>
<rect x="743.7" y="87.9" width="16.3" height="16.3" stroke="#FF0000"/>
<rect x="741.0" y="91.9" width="16.3" height="16.3" stroke="#FF0000"/>
<path d="M742.8 75.9L759.0 92.1M742.8 92.1L759.0 75.9M739.4 84.0L762.4 84.0M750.9 72.5L750.9 95.5" stroke="#FF0000"/>
<path d="M740.1 80.9L756.3 97.1M740.1 97.1L756.3 80.9M736.7 89.0L759.7 89.0M748.2 77.5L748.2 100.5" stroke="#FF0000"/>
<path d="M741.9 85.9L758.1 102.1M741.9 102.1L758.1 85.9M738.5 94.0L761.5 94.0M750.0 82.5L750.0 105.5" stroke="#FF0000"/>
<path d="M743.7 90.9L759.9 107.1M743.7 107.1L759.9 90.9M740.3 99.0L763.3 99.0M751.8 87.5L751.8 110.5" stroke="#FF0000"/>
<rect x="784.8" y="75.9" width="16.3" height="16.3" stroke="#FF0000"/>
<rect x="782.1" y="79.9" width="16.3" height="16.3" stroke="#FF0000"/>
<rect x="783.9" y="83.9" width="16.3" height="16.3" stroke="#FF0000"/>
<rect x="785.7" y="87.9" width="16.3" height="16.3" stroke="#FF0000"/>
<rect x="783.0" y="91.9" width="16.3" height="16.3" stroke="#FF0000"/>
<rect x="784.8" y="95.9" width="16.3" height="16.3" stroke="#FF0000"/>
<rect x="782.1" y="99.9" width="16.3" height="16.3" stroke="#FF0000"/>
<rect x="783.9" y="103.9" width="16.3" height="16.3" stroke="#FF0000"/>
<path d="M784.8 75.9L801.0 92.1M784.8 92.1L801.0 75.9M781.4 84.0L804.4 84.0M792.9 72.5L792.9 95.5" stroke="#FF0000"/>
<path d="M782.1 81.9L798.3 98.1M782.1 98.1L798.3 81.9M778.7 90.0L801.7 90.0M790.2 78.5L790.2 101.5" stroke="#FF0000"/>
<path d="M783.9 87.9L800.1 104.1M783.9 104.1L800.1 87.9M780.5 96.0L803.5 96.0M792.0 84.5L792.0 107.5" stroke="#FF0000"/>
<path d="M785.7 93.9L801.9 110.1M785.7 110.1L801.9 93.9M782.3 102.0L805.3 102.0M793.8 90.5L793.8 113.5" stroke="#FF0000"/>
<path d="M783.0 99.9L799.2 116.1M783.0 116.1L799.2 99.9M779.6 108.0L802.6 108.0M791.1 96.5L791.1 119.5" stroke="#FF0000"/>
<path d="M783.2 122.9L799.4 139.1M783.2 139.1L799.4 122.9M779.8 131.0L802.8 131.0M791.3 119.5L791.3 142.5" stroke="#FF0000"/>
<path d="M791.5 141.8L803.0 153.3L791.5 164.8L780.0 153.3Z" stroke="#FF0000"/>
<path d="M793.0 168.5L804.5 180.0L793.0 191.5L781.5 180.0Z" stroke="#FF0000"/>
<rect x="783.9" y="180.9" width="16.3" height="16.3" stroke="#FF0000"/>
<path d="M783.9 180.9L800.1 197.1M783.9 197.1L800.1 180.9M780.5 189.0L803.5 189.0M792.0 177.5L792.0 200.5" stroke="#FF0000"/>
<path d="M795.0 193.0L806.5 204.5L795.0 216.0L783.5 204.5Z" stroke="#FF0000"/>
<path d="M782.9 200.9L799.1 217.1M782.9 217.1L799.1 200.9M779.5 209.0L802.5 209.0M791.0 197.5L791.0 220.5" stroke="#FF0000"/>
<path d="M792.0 256.0L803.5 267.5L792.0 279.0L780.5 267.5Z" stroke="#FF0000"/>
<rect x="818.8" y="75.9" width="16.3" height="16.3" stroke="#FF0000"/>
<rect x="816.1" y="79.9" width="16.3" height="16.3" stroke="#FF0000"/>
<rect x="817.9" y="83.9" width="16.3" height="16.3" stroke="#FF0000"/>
<rect x="819.7" y="87.9" width="16.3" height="16.3" stroke="#FF0000"/>
<rect x="817.0" y="91.9" width="16.3" height="16.3" stroke="#FF0000"/>
<rect x="818.8" y="95.9" width="16.3" height="16.3" stroke="#FF0000"/>
<rect x="816.1" y="99.9" width="16.3" height="16.3" stroke="#FF0000"/>
<rect x="817.9" y="103.9" width="16.3" height="16.3" stroke="#FF0000"/>
<rect x="819.7" y="107.9" width="16.3" height="16.3" stroke="#FF0000"/>
<rect x="817.0" y="111.9" width="16.3" height="16.3" stroke="#FF0000"/>
<rect x="818.8" y="115.9" width="16.3" height="16.3" stroke="#FF0000"/>
<rect x="816.1" y="119.9" width="16.3" height="16.3" stroke="#FF0000"/>
<rect x="842.8" y="75.9" width="16.3" height="16.3" stroke="#FF0000"/>
<rect x="840.1" y="79.9" width="16.3" height="16.3" stroke="#FF0000"/>
<rect x="841.9" y="83.9" width="16.3" height="16.3" stroke="#FF0000"/>
<rect x="843.7" y="87.9" width="16.3" height="16.3" stroke="#FF0000"/>
<rect x="841.0" y="91.9" width="16.3" height="16.3" stroke="#FF0000"/>
<rect x="842.8" y="95.9" width="16.3" height="16.3" stroke="#FF0000"/>
<rect x="840.1" y="99.9" width="16.3" height="16.3" stroke="#FF0000"/>
<rect x="841.9" y="103.9" width="16.3" height="16.3" stroke="#FF0000"/>
<rect x="843.7" y="107.9" width="16.3" height="16.3" stroke="#FF0000"/>
<rect x="841.0" y="111.9" width="16.3" height="16.3" stroke="#FF0000"/>
<rect x="842.8" y="115.9" width="16.3" height="16.3" stroke="#FF0000"/>
<rect x="840.1" y="119.9" width="16.3" height="16.3" stroke="#FF0000"/>
<rect x="830.8" y="75.9" width="16.3" height="16.3" stroke="#FF0000"/>
<rect x="828.1" y="81.9" width="16.3" height="16.3" stroke="#FF0000"/>
<rect x="829.9" y="87.9" width="16.3" height="16.3" stroke="#FF0000"/>
<rect x="831.7" y="93.9" width="16.3" height="16.3" stroke="#FF0000"/>
<rect x="829.0" y="99.9" width="16.3" height="16.3" stroke="#FF0000"/>
<rect x="830.8" y="105.9" width="16.3" height="16.3" stroke="#FF0000"/>
<rect x="828.1" y="111.9" width="16.3" height="16.3" stroke="#FF0000"/>
<path d="M818.8 75.9L835.0 92.1M818.8 92.1L835.0 75.9M815.4 84.0L838.4 84.0M826.9 72.5L826.9 95.5" stroke="#FF0000"/>
<path d="M816.1 81.9L832.3 98.1M816.1 98.1L832.3 81.9M812.7 90.0L835.7 90.0M824.2 78.5L824.2 101.5" stroke="#FF0000"/>
<path d="M817.9 87.9L834.1 104.1M817.9 104.1L834.1 87.9M814.5 96.0L837.5 96.0M826.0 84.5L826.0 107.5" stroke="#FF0000"/>
<path d="M819.7 93.9L835.9 110.1M819.7 110.1L835.9 93.9M816.3 102.0L839.3 102.0M827.8 90.5L827.8 113.5" stroke="#FF0000"/>
<path d="M817.0 99.9L833.2 116.1M817.0 116.1L833.2 99.9M813.6 108.0L836.6 108.0M825.1 96.5L825.1 119.5" stroke="#FF0000"/>
<path d="M818.8 105.9L835.0 122.1M818.8 122.1L835.0 105.9M815.4 114.0L838.4 114.0M826.9 102.5L826.9 125.5" stroke="#FF0000"/>
<path d="M816.1 111.9L832.3 128.1M816.1 128.1L832.3 111.9M812.7 120.0L835.7 120.0M824.2 108.5L824.2 131.5" stroke="#FF0000"/>
<path d="M817.9 117.9L834.1 134.1M817.9 134.1L834.1 117.9M814.5 126.0L837.5 126.0M826.0 114.5L826.0 137.5" stroke="#FF0000"/>
<path d="M842.8 75.9L859.0 92.1M842.8 92.1L859.0 75.9M839.4 84.0L862.4 84.0M850.9 72.5L850.9 95.5" stroke="#FF0000"/>
<path d="M840.1 81.9L856.3 98.1M840.1 98.1L856.3 81.9M836.7 90.0L859.7 90.0M848.2 78.5L848.2 101.5" stroke="#FF0000"/>
<path d="M841.9 87.9L858.1 104.1M841.9 104.1L858.1 87.9M838.5 96.0L861.5 96.0M850.0 84.5L850.0 107.5" stroke="#FF0000"/>
<path d="M843.7 93.9L859.9 110.1M843.7 110.1L859.9 93.9M840.3 102.0L863.3 102.0M851.8 90.5L851.8 113.5" stroke="#FF0000"/>
<path d="M841.0 99.9L857.2 116.1M841.0 116.1L857.2 99.9M837.6 108.0L860.6 108.0M849.1 96.5L849.1 119.5" stroke="#FF0000"/>
<path d="M842.8 105.9L859.0 122.1M842.8 122.1L859.0 105.9M839.4 114.0L862.4 114.0M850.9 102.5L850.9 125.5" stroke="#FF0000"/>
<path d="M840.1 111.9L856.3 128.1M840.1 128.1L856.3 111.9M836.7 120.0L859.7 120.0M848.2 108.5L848.2 131.5" stroke="#FF0000"/>
<path d="M841.9 117.9L858.1 134.1M841.9 134.1L858.1 117.9M838.5 126.0L861.5 126.0M850.0 114.5L850.0 137.5" stroke="#FF0000"/>
<path d="M819.9 125.9L836.1 142.1M819.9 142.1L836.1 125.9M816.5 134.0L839.5 134.0M828.0 122.5L828.0 145.5" stroke="#FF0000"/>
<rect x="820.4" y="143.9" width="16.3" height="16.3" stroke="#FF0000"/>
<rect x="843.9" y="120.9" width="16.3" height="16.3" stroke="#FF0000"/>
<rect x="843.9" y="142.6" width="16.3" height="16.3" stroke="#FF0000"/>
<path d="M843.9 134.9L860.1 151.1M843.9 151.1L860.1 134.9M840.5 143.0L863.5 143.0M852.0 131.5L852.0 154.5" stroke="#FF0000"/>
<path d="M852.0 140.5L863.5 152.0L852.0 163.5L840.5 152.0Z" stroke="#FF0000"/>
<path d="M815.9 158.9L832.1 175.1M815.9 175.1L832.1 158.9M812.5 167.0L835.5 167.0M824.0 155.5L824.0 178.5" stroke="#FF0000"/>
<path d="M843.9 163.4L860.1 179.6M843.9 179.6L860.1 163.4M840.5 171.5L863.5 171.5M852.0 160.0L852.0 183.0" stroke="#FF0000"/>
<path d="M817.9 203.9L834.1 220.1M817.9 220.1L834.1 203.9M814.5 212.0L837.5 212.0M826.0 200.5L826.0 223.5" stroke="#FF0000"/>
<path d="M837.9 204.9L854.1 221.1M837.9 221.1L854.1 204.9M834.5 213.0L857.5 213.0M846.0 201.5L846.0 224.5" stroke="#FF0000"/>
<path d="M844.9 214.9L861.1 231.1M844.9 231.1L861.1 214.9M841.5 223.0L864.5 223.0M853.0 211.5L853.0 234.5" stroke="#FF0000"/>
<rect x="839.9" y="224.9" width="16.3" height="16.3" stroke="#FF0000"/>
<path d="M844.9 236.4L861.1 252.6M844.9 252.6L861.1 236.4M841.5 244.5L864.5 244.5M853.0 233.0L853.0 256.0" stroke="#FF0000"/>
<rect x="887.8" y="75.9" width="16.3" height="16.3" stroke="#FF0000"/>
<rect x="885.1" y="79.9" width="16.3" height="16.3" stroke="#FF0000"/>
<rect x="886.9" y="83.9" width="16.3" height="16.3" stroke="#FF0000"/>
<rect x="888.7" y="87.9" width="16.3" height="16.3" stroke="#FF0000"/>
<rect x="886.0" y="91.9" width="16.3" height="16.3" stroke="#FF0000"/>
<rect x="887.8" y="95.9" width="16.3" height="16.3" stroke="#FF0000"/>
<rect x="885.1" y="99.9" width="16.3" height="16.3" stroke="#FF0000"/>
<rect x="886.9" y="103.9" width="16.3" height="16.3" stroke="#FF0000"/>
<rect x="888.7" y="107.9" width="16.3" height="16.3" stroke="#FF0000"/>
<rect x="886.0" y="111.9" width="16.3" height="16.3" stroke="#FF0000"/>
<rect x="887.8" y="115.9" width="16.3" height="16.3" stroke="#FF0000"/>
<rect x="907.8" y="75.9" width="16.3" height="16.3" stroke="#FF0000"/>
<rect x="905.1" y="79.9" width="16.3" height="16.3" stroke="#FF0000"/>
<rect x="906.9" y="83.9" width="16.3" height="16.3" stroke="#FF0000"/>
<rect x="908.7" y="87.9" width="16.3" height="16.3" stroke="#FF0000"/>
<rect x="906.0" y="91.9" width="16.3" height="16.3" stroke="#FF0000"/>
<rect x="907.8" y="95.9" width="16.3" height="16.3" stroke="#FF0000"/>
<rect x="905.1" y="99.9" width="16.3" height="16.3" stroke="#FF0000"/>
<rect x="906.9" y="103.9" width="16.3" height="16.3" stroke="#FF0000"/>
<rect x="908.7" y="107.9" width="16.3" height="16.3" stroke="#FF0000"/>
<rect x="906.0" y="111.9" width="16.3" height="16.3" stroke="#FF0000"/>
<rect x="907.8" y="115.9" width="16.3" height="16.3" stroke="#FF0000"/>
<rect x="927.8" y="75.9" width="16.3" height="16.3" stroke="#FF0000"/>
<rect x="925.1" y="79.9" width="16.3" height="16.3" stroke="#FF0000"/>
<rect x="926.9" y="83.9" width="16.3" height="16.3" stroke="#FF0000"/>
<rect x="928.7" y="87.9" width="16.3" height="16.3" stroke="#FF0000"/>
<rect x="926.0" y="91.9" width="16.3" height="16.3" stroke="#FF0000"/>
<rect x="927.8" y="95.9" width="16.3" height="16.3" stroke="#FF0000"/>
<rect x="925.1" y="99.9" width="16.3" height="16.3" stroke="#FF0000"/>
<path d="M897.8 75.9L914.0 92.1M897.8 92.1L914.0 75.9M894.4 84.0L917.4 84.0M905.9 72.5L905.9 95.5" stroke="#FF0000"/>
<path d="M895.1 81.9L911.3 98.1M895.1 98.1L911.3 81.9M891.7 90.0L914.7 90.0M903.2 78.5L903.2 101.5" stroke="#FF0000"/>
<path d="M896.9 87.9L913.1 104.1M896.9 104.1L913.1 87.9M893.5 96.0L916.5 96.0M905.0 84.5L905.0 107.5" stroke="#FF0000"/>
<path d="M898.7 93.9L914.9 110.1M898.7 110.1L914.9 93.9M895.3 102.0L918.3 102.0M906.8 90.5L906.8 113.5" stroke="#FF0000"/>
<path d="M896.0 99.9L912.2 116.1M896.0 116.1L912.2 99.9M892.6 108.0L915.6 108.0M904.1 96.5L904.1 119.5" stroke="#FF0000"/>
<path d="M897.8 105.9L914.0 122.1M897.8 122.1L914.0 105.9M894.4 114.0L917.4 114.0M905.9 102.5L905.9 125.5" stroke="#FF0000"/>
<path d="M895.1 111.9L911.3 128.1M895.1 128.1L911.3 111.9M891.7 120.0L914.7 120.0M903.2 108.5L903.2 131.5" stroke="#FF0000"/>
<path d="M896.9 117.9L913.1 134.1M896.9 134.1L913.1 117.9M893.5 126.0L916.5 126.0M905.0 114.5L905.0 137.5" stroke="#FF0000"/>
<path d="M922.8 75.9L939.0 92.1M922.8 92.1L939.0 75.9M919.4 84.0L942.4 84.0M930.9 72.5L930.9 95.5" stroke="#FF0000"/>
<path d="M920.1 81.9L936.3 98.1M920.1 98.1L936.3 81.9M916.7 90.0L939.7 90.0M928.2 78.5L928.2 101.5" stroke="#FF0000"/>
<path d="M921.9 87.9L938.1 104.1M921.9 104.1L938.1 87.9M918.5 96.0L941.5 96.0M930.0 84.5L930.0 107.5" stroke="#FF0000"/>
<path d="M923.7 93.9L939.9 110.1M923.7 110.1L939.9 93.9M920.3 102.0L943.3 102.0M931.8 90.5L931.8 113.5" stroke="#FF0000"/>
<path d="M921.0 99.9L937.2 116.1M921.0 116.1L937.2 99.9M917.6 108.0L940.6 108.0M929.1 96.5L929.1 119.5" stroke="#FF0000"/>
<path d="M922.8 105.9L939.0 122.1M922.8 122.1L939.0 105.9M919.4 114.0L942.4 114.0M930.9 102.5L930.9 125.5" stroke="#FF0000"/>
<path d="M937.0 126.9L948.5 138.4L937.0 149.9L925.5 138.4Z" stroke="#FF0000"/>
<rect x="885.7" y="147.2" width="16.3" height="16.3" stroke="#FF0000"/>
<path d="M904.9 148.7L921.1 164.9M904.9 164.9L921.1 148.7M901.5 156.8L924.5 156.8M913.0 145.3L913.0 168.3" stroke="#FF0000"/>
<path d="M928.9 168.8L945.1 185.0M928.9 185.0L945.1 168.8M925.5 176.9L948.5 176.9M937.0 165.4L937.0 188.4" stroke="#FF0000"/>
<path d="M930.9 169.9L947.1 186.1M930.9 186.1L947.1 169.9M927.5 178.0L950.5 178.0M939.0 166.5L939.0 189.5" stroke="#FF0000"/>
<path d="M887.3 227.2L903.5 243.4M887.3 243.4L903.5 227.2M883.9 235.3L906.9 235.3M895.4 223.8L895.4 246.8" stroke="#FF0000"/>
<rect x="957.8" y="75.9" width="16.3" height="16.3" stroke="#FF0000"/>
<rect x="955.1" y="79.9" width="16.3" height="16.3" stroke="#FF0000"/>
<rect x="956.9" y="83.9" width="16.3" height="16.3" stroke="#FF0000"/>
<rect x="958.7" y="87.9" width="16.3" height="16.3" stroke="#FF0000"/>
<rect x="956.0" y="91.9" width="16.3" height="16.3" stroke="#FF0000"/>
<rect x="957.8" y="95.9" width="16.3" height="16.3" stroke="#FF0000"/>
<rect x="955.1" y="99.9" width="16.3" height="16.3" stroke="#FF0000"/>
<rect x="956.9" y="103.9" width="16.3" height="16.3" stroke="#FF0000"/>
<rect x="958.7" y="107.9" width="16.3" height="16.3" stroke="#FF0000"/>
<rect x="956.0" y="111.9" width="16.3" height="16.3" stroke="#FF0000"/>
<rect x="957.8" y="115.9" width="16.3" height="16.3" stroke="#FF0000"/>
<rect x="980.8" y="75.9" width="16.3" height="16.3" stroke="#FF0000"/>
<rect x="978.1" y="79.9" width="16.3" height="16.3" stroke="#FF0000"/>
<rect x="979.9" y="83.9" width="16.3" height="16.3" stroke="#FF0000"/>
<rect x="981.7" y="87.9" width="16.3" height="16.3" stroke="#FF0000"/>
<rect x="979.0" y="91.9" width="16.3" height="16.3" stroke="#FF0000"/>
<rect x="980.8" y="95.9" width="16.3" height="16.3" stroke="#FF0000"/>
<rect x="978.1" y="99.9" width="16.3" height="16.3" stroke="#FF0000"/>
<rect x="979.9" y="103.9" width="16.3" height="16.3" stroke="#FF0000"/>
<rect x="981.7" y="107.9" width="16.3" height="16.3" stroke="#FF0000"/>
<rect x="979.0" y="111.9" width="16.3" height="16.3" stroke="#FF0000"/>
<rect x="980.8" y="115.9" width="16.3" height="16.3" stroke="#FF0000"/>
<path d="M968.8 75.9L985.0 92.1M968.8 92.1L985.0 75.9M965.4 84.0L988.4 84.0M976.9 72.5L976.9 95.5" stroke="#FF0000"/>
<path d="M966.1 81.9L982.3 98.1M966.1 98.1L982.3 81.9M962.7 90.0L985.7 90.0M974.2 78.5L974.2 101.5" stroke="#FF0000"/>
<path d="M967.9 87.9L984.1 104.1M967.9 104.1L984.1 87.9M964.5 96.0L987.5 96.0M976.0 84.5L976.0 107.5" stroke="#FF0000"/>
<path d="M969.7 93.9L985.9 110.1M969.7 110.1L985.9 93.9M966.3 102.0L989.3 102.0M977.8 90.5L977.8 113.5" stroke="#FF0000"/>
<path d="M967.0 99.9L983.2 116.1M967.0 116.1L983.2 99.9M963.6 108.0L986.6 108.0M975.1 96.5L975.1 119.5" stroke="#FF0000"/>
<path d="M968.8 105.9L985.0 122.1M968.8 122.1L985.0 105.9M965.4 114.0L988.4 114.0M976.9 102.5L976.9 125.5" stroke="#FF0000"/>
<path d="M966.1 111.9L982.3 128.1M966.1 128.1L982.3 111.9M962.7 120.0L985.7 120.0M974.2 108.5L974.2 131.5" stroke="#FF0000"/>
<path d="M965.3 119.2L976.8 130.7L965.3 142.2L953.8 130.7Z" stroke="#FF0000"/>
<path d="M956.9 130.3L973.1 146.5M956.9 146.5L973.1 130.3M953.5 138.4L976.5 138.4M965.0 126.9L965.0 149.9" stroke="#FF0000"/>
<rect x="956.9" y="141.1" width="16.3" height="16.3" stroke="#FF0000"/>
<rect x="959.9" y="159.5" width="16.3" height="16.3" stroke="#FF0000"/>
<rect x="977.9" y="141.1" width="16.3" height="16.3" stroke="#FF0000"/>
<path d="M977.9 134.9L994.1 151.1M977.9 151.1L994.1 134.9M974.5 143.0L997.5 143.0M986.0 131.5L986.0 154.5" stroke="#FF0000"/>
<path d="M981.9 123.9L998.1 140.1M981.9 140.1L998.1 123.9M978.5 132.0L1001.5 132.0M990.0 120.5L990.0 143.5" stroke="#FF0000"/>
<path d="M992.2 165.3L1003.7 176.8L992.2 188.3L980.7 176.8Z" stroke="#FF0000"/>
<rect x="980.9" y="184.1" width="16.3" height="16.3" stroke="#FF0000"/>
<path d="M984.9 192.6L1001.1 208.8M984.9 208.8L1001.1 192.6M981.5 200.7L1004.5 200.7M993.0 189.2L993.0 212.2" stroke="#FF0000"/>
<path d="M957.2 207.9L973.4 224.1M957.2 224.1L973.4 207.9M953.8 216.0L976.8 216.0M965.3 204.5L965.3 227.5" stroke="#FF0000"/>
<path d="M984.1 225.6L1000.3 241.8M984.1 241.8L1000.3 225.6M980.7 233.7L1003.7 233.7M992.2 222.2L992.2 245.2" stroke="#FF0000"/>
<path d="M959.5 259.4L975.7 275.6M959.5 275.6L975.7 259.4M956.1 267.5L979.1 267.5M967.6 256.0L967.6 279.0" stroke="#FF0000"/>
<rect x="1051.8" y="75.9" width="16.3" height="16.3" stroke="#FF0000"/>
<rect x="1049.1" y="79.9" width="16.3" height="16.3" stroke="#FF0000"/>
<rect x="1050.9" y="83.9" width="16.3" height="16.3" stroke="#FF0000"/>
<rect x="1052.7" y="87.9" width="16.3" height="16.3" stroke="#FF0000"/>
<rect x="1050.0" y="91.9" width="16.3" height="16.3" stroke="#FF0000"/>
<rect x="1051.8" y="95.9" width="16.3" height="16.3" stroke="#FF0000"/>
<rect x="1049.1" y="99.9" width="16.3" height="16.3" stroke="#FF0000"/>
<path d="M1051.8 75.9L1068.0 92.1M1051.8 92.1L1068.0 75.9M1048.4 84.0L1071.4 84.0M1059.9 72.5L1059.9 95.5" stroke="#FF0000"/>
<path d="M1049.1 80.9L1065.3 97.1M1049.1 97.1L1065.3 80.9M1045.7 89.0L1068.7 89.0M1057.2 77.5L1057.2 100.5" stroke="#FF0000"/>
<path d="M1050.9 85.9L1067.1 102.1M1050.9 102.1L1067.1 85.9M1047.5 94.0L1070.5 94.0M1059.0 82.5L1059.0 105.5" stroke="#FF0000"/>
<path d="M1052.7 90.9L1068.9 107.1M1052.7 107.1L1068.9 90.9M1049.3 99.0L1072.3 99.0M1060.8 87.5L1060.8 110.5" stroke="#FF0000"/>
<path d="M1050.0 95.9L1066.2 112.1M1050.0 112.1L1066.2 95.9M1046.6 104.0L1069.6 104.0M1058.1 92.5L1058.1 115.5" stroke="#FF0000"/>
<rect x="1048.9" y="109.9" width="16.3" height="16.3" stroke="#FF0000"/>
<rect x="1051.9" y="114.9" width="16.3" height="16.3" stroke="#FF0000"/>
<rect x="1050.9" y="119.9" width="16.3" height="16.3" stroke="#FF0000"/>
<path d="M1050.9 119.5L1067.1 135.7M1050.9 135.7L1067.1 119.5M1047.5 127.6L1070.5 127.6M1059.0 116.1L1059.0 139.1" stroke="#FF0000"/>
<path d="M1058.3 143.1L1069.8 154.6L1058.3 166.1L1046.8 154.6Z" stroke="#FF0000"/>
<path d="M1048.7 174.1L1064.9 190.3M1048.7 190.3L1064.9 174.1M1045.3 182.2L1068.3 182.2M1056.8 170.7L1056.8 193.7" stroke="#FF0000"/>
<path d="M1048.7 184.1L1064.9 200.3M1048.7 200.3L1064.9 184.1M1045.3 192.2L1068.3 192.2M1056.8 180.7L1056.8 203.7" stroke="#FF0000"/>
<rect x="1048.7" y="224.1" width="16.3" height="16.3" stroke="#FF0000"/>
<path d="M528.1 322.9L539.6 334.4L528.1 345.9L516.6 334.4Z" stroke="#FF0000"/>
<rect x="702.9" y="297.9" width="16.3" height="16.3" stroke="#FF0000"/>
<path d="M825.4 275.9L836.9 287.4L825.4 298.9L813.9 287.4Z" stroke="#FF0000"/>
<path d="M882.3 315.4L898.5 331.6M882.3 331.6L898.5 315.4M878.9 323.5L901.9 323.5M890.4 312.0L890.4 335.0" stroke="#FF0000"/>
<rect x="982.6" y="353.9" width="16.3" height="16.3" stroke="#FF0000"/>
<path d="M958.1 260.1L974.3 276.3M958.1 276.3L974.3 260.1M954.7 268.2L977.7 268.2M966.2 256.7L966.2 279.7" stroke="#FF0000"/>
<path d="M984.7 285.5L996.2 297.0L984.7 308.5L973.2 297.0Z" stroke="#FF0000"/>
<rect x="1054.3" y="291.4" width="16.3" height="16.3" stroke="#FF0000"/>
<rect x="1048.9" y="300.9" width="16.3" height="16.3" stroke="#FF0000"/>
<path d="M709.8 386.1L721.3 397.6L709.8 409.1L698.3 397.6Z" stroke="#FF0000"/>
<rect x="703.4" y="440.5" width="16.3" height="16.3" stroke="#FF0000"/>
<rect x="741.5" y="429.7" width="16.3" height="16.3" stroke="#FF0000"/>
<path d="M750.0 436.4L761.5 447.9L750.0 459.4L738.5 447.9Z" stroke="#FF0000"/>
<path d="M905.1 391.2L921.3 407.4M905.1 407.4L921.3 391.2M901.7 399.3L924.7 399.3M913.2 387.8L913.2 410.8" stroke="#FF0000"/>
<path d="M983.8 379.1L1000.0 395.3M983.8 395.3L1000.0 379.1M980.4 387.2L1003.4 387.2M991.9 375.7L991.9 398.7" stroke="#FF0000"/>
<path d="M958.5 410.4L974.7 426.6M958.5 426.6L974.7 410.4M955.1 418.5L978.1 418.5M966.6 407.0L966.6 430.0" stroke="#FF0000"/>
<path d="M889.2 425.1L900.7 436.6L889.2 448.1L877.7 436.6Z" stroke="#FF0000"/>
<rect x="985.7" y="463.4" width="16.3" height="16.3" stroke="#FF0000"/>
<rect x="980.2" y="509.1" width="16.3" height="16.3" stroke="#FF0000"/>
<path d="M1047.1 518.7L1063.3 534.9M1047.1 534.9L1063.3 518.7M1043.7 526.8L1066.7 526.8M1055.2 515.3L1055.2 538.3" stroke="#FF0000"/>
<path d="M881.1 533.6L897.3 549.8M881.1 549.8L897.3 533.6M877.7 541.7L900.7 541.7M889.2 530.2L889.2 553.2" stroke="#FF0000"/>
<path d="M983.8 539.7L1000.0 555.9M983.8 555.9L1000.0 539.7M980.4 547.8L1003.4 547.8M991.9 536.3L991.9 559.3" stroke="#FF0000"/>
<path d="M819.2 566.9L835.4 583.1M819.2 583.1L835.4 566.9M815.8 575.0L838.8 575.0M827.3 563.5L827.3 586.5" stroke="#FF0000"/>
<path d="M703.4 628.9L719.6 645.1M703.4 645.1L719.6 628.9M700.0 637.0L723.0 637.0M711.5 625.5L711.5 648.5" stroke="#FF0000"/>
<path d="M891.9 622.7L908.1 638.9M891.9 638.9L908.1 622.7M888.5 630.8L911.5 630.8M900.0 619.3L900.0 642.3" stroke="#FF0000"/>
<path d="M958.5 615.0L974.7 631.2M958.5 631.2L974.7 615.0M955.1 623.1L978.1 623.1M966.6 611.6L966.6 634.6" stroke="#FF0000"/>
<path d="M991.9 614.0L1003.4 625.5L991.9 637.0L980.4 625.5Z" stroke="#FF0000"/>
<rect x="703.4" y="672.7" width="16.3" height="16.3" stroke="#FF0000"/>
<path d="M785.3 667.2L801.5 683.4M785.3 683.4L801.5 667.2M781.9 675.3L804.9 675.3M793.4 663.8L793.4 686.8" stroke="#FF0000"/>
<path d="M1056.9 660.2L1068.4 671.7L1056.9 683.2L1045.4 671.7Z" stroke="#FF0000"/>
<path d="M1054.8 660.2L1071.0 676.4M1054.8 676.4L1071.0 660.2M1051.4 668.3L1074.4 668.3M1062.9 656.8L1062.9 679.8" stroke="#FF0000"/>
<rect x="891.9" y="806.9" width="16.3" height="16.3" stroke="#FF0000"/>
<rect x="1054.3" y="861.1" width="16.3" height="16.3" stroke="#FF0000"/>
<path d="M1023.5 882.8L1039.7 899.0M1023.5 899.0L1039.7 882.8M1020.1 890.9L1043.1 890.9M1031.6 879.4L1031.6 902.4" stroke="#FF0000"/>
<path d="M911.9 973.5L928.1 989.7M911.9 989.7L928.1 973.5M908.5 981.6L931.5 981.6M920.0 970.1L920.0 993.1" stroke="#FF0000"/>
<path d="M701.5 1050.4L717.7 1066.6M701.5 1066.6L717.7 1050.4M698.1 1058.5L721.1 1058.5M709.6 1047.0L709.6 1070.0" stroke="#FF0000"/>
<rect x="703.6" y="1169.9" width="16.3" height="16.3" stroke="#FF0000"/>
<path d="M518.5 1199.2L534.7 1215.4M518.5 1215.4L534.7 1199.2M515.1 1207.3L538.1 1207.3M526.6 1195.8L526.6 1218.8" stroke="#FF0000"/>
<path d="M703.6 1188.7L719.8 1204.9M703.6 1204.9L719.8 1188.7M700.2 1196.8L723.2 1196.8M711.7 1185.3L711.7 1208.3" stroke="#FF0000"/>
<path d="M792.4 1291.5L803.9 1303.0L792.4 1314.5L780.9 1303.0Z" stroke="#FF0000"/>
<path d="M818.0 1064.0L834.2 1080.2M818.0 1080.2L834.2 1064.0M814.6 1072.1L837.6 1072.1M826.1 1060.6L826.1 1083.6" stroke="#FF0000"/>
<path d="M957.5 1099.6L973.7 1115.8M957.5 1115.8L973.7 1099.6M954.1 1107.7L977.1 1107.7M965.6 1096.2L965.6 1119.2" stroke="#FF0000"/>
<path d="M914.5 1141.6L930.7 1157.8M914.5 1157.8L930.7 1141.6M911.1 1149.7L934.1 1149.7M922.6 1138.2L922.6 1161.2" stroke="#FF0000"/>
<path d="M1056.8 1140.7L1068.3 1152.2L1056.8 1163.7L1045.3 1152.2Z" stroke="#FF0000"/>
<rect x="882.0" y="1153.1" width="16.3" height="16.3" stroke="#FF0000"/>
<rect x="837.3" y="1157.7" width="16.3" height="16.3" stroke="#FF0000"/>
<rect x="958.5" y="1149.3" width="16.3" height="16.3" stroke="#FF0000"/>
<path d="M835.2 1232.1L851.4 1248.3M835.2 1248.3L851.4 1232.1M831.8 1240.2L854.8 1240.2M843.3 1228.7L843.3 1251.7" stroke="#FF0000"/>
<path d="M844.2 1227.3L860.4 1243.5M844.2 1243.5L860.4 1227.3M840.8 1235.4L863.8 1235.4M852.3 1223.9L852.3 1246.9" stroke="#FF0000"/>
<path d="M1047.2 1244.3L1063.4 1260.5M1047.2 1260.5L1063.4 1244.3M1043.8 1252.4L1066.8 1252.4M1055.3 1240.9L1055.3 1263.9" stroke="#FF0000"/>
<path d="M957.5 1270.9L973.7 1287.1M957.5 1287.1L973.7 1270.9M954.1 1279.0L977.1 1279.0M965.6 1267.5L965.6 1290.5" stroke="#FF0000"/>
<path d="M892.2 1291.5L903.7 1303.0L892.2 1314.5L880.7 1303.0Z" stroke="#FF0000"/>
<path d="M884.1 1294.9L900.3 1311.1M884.1 1311.1L900.3 1294.9M880.7 1303.0L903.7 1303.0M892.2 1291.5L892.2 1314.5" stroke="#FF0000"/>
<path d="M957.5 1283.5L973.7 1299.7M957.5 1299.7L973.7 1283.5M954.1 1291.6L977.1 1291.6M965.6 1280.1L965.6 1303.1" stroke="#FF0000"/>
<path d="M984.3 1282.5L1000.5 1298.7M984.3 1298.7L1000.5 1282.5M980.9 1290.6L1003.9 1290.6M992.4 1279.1L992.4 1302.1" stroke="#FF0000"/>
<path d="M1009.9 1294.9L1026.1 1311.1M1009.9 1311.1L1026.1 1294.9M1006.5 1303.0L1029.5 1303.0M1018.0 1291.5L1018.0 1314.5" stroke="#FF0000"/>
<path d="M310.4 1294.5L326.6 1310.7M310.4 1310.7L326.6 1294.5M307.0 1302.6L330.0 1302.6M318.5 1291.1L318.5 1314.1" stroke="#FF0000"/>
<rect x="1383.1" y="75.9" width="16.3" height="16.3" stroke="#FF0000"/>
<rect x="1380.4" y="79.9" width="16.3" height="16.3" stroke="#FF0000"/>
<rect x="1382.2" y="83.9" width="16.3" height="16.3" stroke="#FF0000"/>
<rect x="1384.0" y="87.9" width="16.3" height="16.3" stroke="#FF0000"/>
<rect x="1381.3" y="91.9" width="16.3" height="16.3" stroke="#FF0000"/>
<rect x="1383.1" y="95.9" width="16.3" height="16.3" stroke="#FF0000"/>
<rect x="1380.4" y="99.9" width="16.3" height="16.3" stroke="#FF0000"/>
<path d="M1383.1 75.9L1399.3 92.1M1383.1 92.1L1399.3 75.9M1379.7 84.0L1402.7 84.0M1391.2 72.5L1391.2 95.5" stroke="#FF0000"/>
<path d="M1380.4 80.9L1396.6 97.1M1380.4 97.1L1396.6 80.9M1377.0 89.0L1400.0 89.0M1388.5 77.5L1388.5 100.5" stroke="#FF0000"/>
<path d="M1382.2 85.9L1398.4 102.1M1382.2 102.1L1398.4 85.9M1378.8 94.0L1401.8 94.0M1390.3 82.5L1390.3 105.5" stroke="#FF0000"/>
<path d="M1384.0 90.9L1400.2 107.1M1384.0 107.1L1400.2 90.9M1380.6 99.0L1403.6 99.0M1392.1 87.5L1392.1 110.5" stroke="#FF0000"/>
<path d="M1381.3 95.9L1397.5 112.1M1381.3 112.1L1397.5 95.9M1377.9 104.0L1400.9 104.0M1389.4 92.5L1389.4 115.5" stroke="#FF0000"/>
<path d="M1380.8 109.2L1397.0 125.4M1380.8 125.4L1397.0 109.2M1377.4 117.3L1400.4 117.3M1388.9 105.8L1388.9 128.8" stroke="#FF0000"/>
<path d="M1380.8 128.7L1397.0 144.9M1380.8 144.9L1397.0 128.7M1377.4 136.8L1400.4 136.8M1388.9 125.3L1388.9 148.3" stroke="#FF0000"/>
<path d="M1391.1 229.5L1402.6 241.0L1391.1 252.5L1379.6 241.0Z" stroke="#FF0000"/>
<rect x="1382.7" y="717.3" width="16.3" height="16.3" stroke="#FF0000"/>
<path d="M1383.4 1099.5L1399.6 1115.7M1383.4 1115.7L1399.6 1099.5M1380.0 1107.6L1403.0 1107.6M1391.5 1096.1L1391.5 1119.1" stroke="#FF0000"/>
<path d="M1383.4 1176.8L1399.6 1193.0M1383.4 1193.0L1399.6 1176.8M1380.0 1184.9L1403.0 1184.9M1391.5 1173.4L1391.5 1196.4" stroke="#FF0000"/>
<rect x="1610.8" y="75.9" width="16.3" height="16.3" stroke="#FF0000"/>
<rect x="1608.1" y="79.9" width="16.3" height="16.3" stroke="#FF0000"/>
<rect x="1609.9" y="83.9" width="16.3" height="16.3" stroke="#FF0000"/>
<rect x="1611.7" y="87.9" width="16.3" height="16.3" stroke="#FF0000"/>
<rect x="1609.0" y="91.9" width="16.3" height="16.3" stroke="#FF0000"/>
<rect x="1610.8" y="95.9" width="16.3" height="16.3" stroke="#FF0000"/>
<rect x="1608.1" y="99.9" width="16.3" height="16.3" stroke="#FF0000"/>
<rect x="1609.9" y="103.9" width="16.3" height="16.3" stroke="#FF0000"/>
<rect x="1624.8" y="75.9" width="16.3" height="16.3" stroke="#FF0000"/>
<rect x="1622.1" y="79.9" width="16.3" height="16.3" stroke="#FF0000"/>
<rect x="1623.9" y="83.9" width="16.3" height="16.3" stroke="#FF0000"/>
<rect x="1625.7" y="87.9" width="16.3" height="16.3" stroke="#FF0000"/>
<rect x="1623.0" y="91.9" width="16.3" height="16.3" stroke="#FF0000"/>
<rect x="1624.8" y="95.9" width="16.3" height="16.3" stroke="#FF0000"/>
<rect x="1622.1" y="99.9" width="16.3" height="16.3" stroke="#FF0000"/>
<rect x="1623.9" y="103.9" width="16.3" height="16.3" stroke="#FF0000"/>
<rect x="1636.8" y="75.9" width="16.3" height="16.3" stroke="#FF0000"/>
<rect x="1634.1" y="79.9" width="16.3" height="16.3" stroke="#FF0000"/>
<rect x="1635.9" y="83.9" width="16.3" height="16.3" stroke="#FF0000"/>
<rect x="1637.7" y="87.9" width="16.3" height="16.3" stroke="#FF0000"/>
<rect x="1635.0" y="91.9" width="16.3" height="16.3" stroke="#FF0000"/>
<rect x="1636.8" y="95.9" width="16.3" height="16.3" stroke="#FF0000"/>
<rect x="1634.1" y="99.9" width="16.3" height="16.3" stroke="#FF0000"/>
<path d="M1616.8 75.9L1633.0 92.1M1616.8 92.1L1633.0 75.9M1613.4 84.0L1636.4 84.0M1624.9 72.5L1624.9 95.5" stroke="#FF0000"/>
<path d="M1614.1 81.9L1630.3 98.1M1614.1 98.1L1630.3 81.9M1610.7 90.0L1633.7 90.0M1622.2 78.5L1622.2 101.5" stroke="#FF0000"/>
<path d="M1615.9 87.9L1632.1 104.1M1615.9 104.1L1632.1 87.9M1612.5 96.0L1635.5 96.0M1624.0 84.5L1624.0 107.5" stroke="#FF0000"/>
<path d="M1617.7 93.9L1633.9 110.1M1617.7 110.1L1633.9 93.9M1614.3 102.0L1637.3 102.0M1625.8 90.5L1625.8 113.5" stroke="#FF0000"/>
<path d="M1615.0 99.9L1631.2 116.1M1615.0 116.1L1631.2 99.9M1611.6 108.0L1634.6 108.0M1623.1 96.5L1623.1 119.5" stroke="#FF0000"/>
<path d="M1633.8 75.9L1650.0 92.1M1633.8 92.1L1650.0 75.9M1630.4 84.0L1653.4 84.0M1641.9 72.5L1641.9 95.5" stroke="#FF0000"/>
<path d="M1631.1 81.9L1647.3 98.1M1631.1 98.1L1647.3 81.9M1627.7 90.0L1650.7 90.0M1639.2 78.5L1639.2 101.5" stroke="#FF0000"/>
<path d="M1632.9 87.9L1649.1 104.1M1632.9 104.1L1649.1 87.9M1629.5 96.0L1652.5 96.0M1641.0 84.5L1641.0 107.5" stroke="#FF0000"/>
<path d="M1634.7 93.9L1650.9 110.1M1634.7 110.1L1650.9 93.9M1631.3 102.0L1654.3 102.0M1642.8 90.5L1642.8 113.5" stroke="#FF0000"/>
<path d="M1632.0 99.9L1648.2 116.1M1632.0 116.1L1648.2 99.9M1628.6 108.0L1651.6 108.0M1640.1 96.5L1640.1 119.5" stroke="#FF0000"/>
<path d="M1622.7 98.0L1634.2 109.5L1622.7 121.0L1611.2 109.5Z" stroke="#FF0000"/>
<rect x="1616.3" y="119.0" width="16.3" height="16.3" stroke="#FF0000"/>
<path d="M1616.3 153.4L1632.5 169.6M1616.3 169.6L1632.5 153.4M1612.9 161.5L1635.9 161.5M1624.4 150.0L1624.4 173.0" stroke="#FF0000"/>
<path d="M1632.2 165.1L1648.4 181.3M1632.2 181.3L1648.4 165.1M1628.8 173.2L1651.8 173.2M1640.3 161.7L1640.3 184.7" stroke="#FF0000"/>
<path d="M1633.1 177.7L1649.3 193.9M1633.1 193.9L1649.3 177.7M1629.7 185.8L1652.7 185.8M1641.2 174.3L1641.2 197.3" stroke="#FF0000"/>
<path d="M1616.3 283.4L1632.5 299.6M1616.3 299.6L1632.5 283.4M1612.9 291.5L1635.9 291.5M1624.4 280.0L1624.4 303.0" stroke="#FF0000"/>
<rect x="1668.4" y="75.9" width="16.3" height="16.3" stroke="#FF0000"/>
<rect x="1665.7" y="79.9" width="16.3" height="16.3" stroke="#FF0000"/>
<rect x="1667.5" y="83.9" width="16.3" height="16.3" stroke="#FF0000"/>
<rect x="1669.3" y="87.9" width="16.3" height="16.3" stroke="#FF0000"/>
<rect x="1666.6" y="91.9" width="16.3" height="16.3" stroke="#FF0000"/>
<rect x="1668.4" y="95.9" width="16.3" height="16.3" stroke="#FF0000"/>
<rect x="1665.7" y="99.9" width="16.3" height="16.3" stroke="#FF0000"/>
<path d="M1668.4 75.9L1684.6 92.1M1668.4 92.1L1684.6 75.9M1665.0 84.0L1688.0 84.0M1676.5 72.5L1676.5 95.5" stroke="#FF0000"/>
<path d="M1665.7 81.9L1681.9 98.1M1665.7 98.1L1681.9 81.9M1662.3 90.0L1685.3 90.0M1673.8 78.5L1673.8 101.5" stroke="#FF0000"/>
<path d="M1667.5 87.9L1683.7 104.1M1667.5 104.1L1683.7 87.9M1664.1 96.0L1687.1 96.0M1675.6 84.5L1675.6 107.5" stroke="#FF0000"/>
<path d="M1669.3 93.9L1685.5 110.1M1669.3 110.1L1685.5 93.9M1665.9 102.0L1688.9 102.0M1677.4 90.5L1677.4 113.5" stroke="#FF0000"/>
<rect x="1667.5" y="116.5" width="16.3" height="16.3" stroke="#FF0000"/>
<path d="M1667.5 111.5L1683.7 127.7M1667.5 127.7L1683.7 111.5M1664.1 119.6L1687.1 119.6M1675.6 108.1L1675.6 131.1" stroke="#FF0000"/>
<path d="M1678.9 118.1L1690.4 129.6L1678.9 141.1L1667.4 129.6Z" stroke="#FF0000"/>
<path d="M1666.6 138.3L1682.8 154.5M1666.6 154.5L1682.8 138.3M1663.2 146.4L1686.2 146.4M1674.7 134.9L1674.7 157.9" stroke="#FF0000"/>
<path d="M1667.5 142.5L1683.7 158.7M1667.5 158.7L1683.7 142.5M1664.1 150.6L1687.1 150.6M1675.6 139.1L1675.6 162.1" stroke="#FF0000"/>
<path d="M1668.8 228.9L1685.0 245.1M1668.8 245.1L1685.0 228.9M1665.4 237.0L1688.4 237.0M1676.9 225.5L1676.9 248.5" stroke="#FF0000"/>
<path d="M1664.9 252.3L1681.1 268.5M1664.9 268.5L1681.1 252.3M1661.5 260.4L1684.5 260.4M1673.0 248.9L1673.0 271.9" stroke="#FF0000"/>
<path d="M1666.6 260.7L1682.8 276.9M1666.6 276.9L1682.8 260.7M1663.2 268.8L1686.2 268.8M1674.7 257.3L1674.7 280.3" stroke="#FF0000"/>
<path d="M1664.9 269.2L1681.1 285.4M1664.9 285.4L1681.1 269.2M1661.5 277.3L1684.5 277.3M1673.0 265.8L1673.0 288.8" stroke="#FF0000"/>
<path d="M1674.7 257.3L1686.2 268.8L1674.7 280.3L1663.2 268.8Z" stroke="#FF0000"/>
<rect x="1702.3" y="75.9" width="16.3" height="16.3" stroke="#FF0000"/>
<rect x="1699.6" y="79.9" width="16.3" height="16.3" stroke="#FF0000"/>
<rect x="1701.4" y="83.9" width="16.3" height="16.3" stroke="#FF0000"/>
<rect x="1703.2" y="87.9" width="16.3" height="16.3" stroke="#FF0000"/>
<rect x="1700.5" y="91.9" width="16.3" height="16.3" stroke="#FF0000"/>
<rect x="1702.3" y="95.9" width="16.3" height="16.3" stroke="#FF0000"/>
<rect x="1699.6" y="99.9" width="16.3" height="16.3" stroke="#FF0000"/>
<rect x="1701.4" y="103.9" width="16.3" height="16.3" stroke="#FF0000"/>
<rect x="1703.2" y="107.9" width="16.3" height="16.3" stroke="#FF0000"/>
<path d="M1702.3 75.9L1718.5 92.1M1702.3 92.1L1718.5 75.9M1698.9 84.0L1721.9 84.0M1710.4 72.5L1710.4 95.5" stroke="#FF0000"/>
<path d="M1699.6 81.9L1715.8 98.1M1699.6 98.1L1715.8 81.9M1696.2 90.0L1719.2 90.0M1707.7 78.5L1707.7 101.5" stroke="#FF0000"/>
<path d="M1701.4 87.9L1717.6 104.1M1701.4 104.1L1717.6 87.9M1698.0 96.0L1721.0 96.0M1709.5 84.5L1709.5 107.5" stroke="#FF0000"/>
<path d="M1703.2 93.9L1719.4 110.1M1703.2 110.1L1719.4 93.9M1699.8 102.0L1722.8 102.0M1711.3 90.5L1711.3 113.5" stroke="#FF0000"/>
<path d="M1700.5 99.9L1716.7 116.1M1700.5 116.1L1716.7 99.9M1697.1 108.0L1720.1 108.0M1708.6 96.5L1708.6 119.5" stroke="#FF0000"/>
<rect x="1701.4" y="110.6" width="16.3" height="16.3" stroke="#FF0000"/>
<path d="M1701.4 107.3L1717.6 123.5M1701.4 123.5L1717.6 107.3M1698.0 115.4L1721.0 115.4M1709.5 103.9L1709.5 126.9" stroke="#FF0000"/>
<path d="M1701.9 137.8L1718.1 154.0M1701.9 154.0L1718.1 137.8M1698.5 145.9L1721.5 145.9M1710.0 134.4L1710.0 157.4" stroke="#FF0000"/>
<path d="M1709.5 160.9L1721.0 172.4L1709.5 183.9L1698.0 172.4Z" stroke="#FF0000"/>
<path d="M1701.0 198.7L1717.2 214.9M1701.0 214.9L1717.2 198.7M1697.6 206.8L1720.6 206.8M1709.1 195.3L1709.1 218.3" stroke="#FF0000"/>
<rect x="1700.2" y="238.9" width="16.3" height="16.3" stroke="#FF0000"/>
<rect x="1788.3" y="75.9" width="16.3" height="16.3" stroke="#FF0000"/>
<rect x="1785.6" y="79.9" width="16.3" height="16.3" stroke="#FF0000"/>
<rect x="1787.4" y="83.9" width="16.3" height="16.3" stroke="#FF0000"/>
<rect x="1789.2" y="87.9" width="16.3" height="16.3" stroke="#FF0000"/>
<rect x="1786.5" y="91.9" width="16.3" height="16.3" stroke="#FF0000"/>
<rect x="1788.3" y="95.9" width="16.3" height="16.3" stroke="#FF0000"/>
<rect x="1785.6" y="99.9" width="16.3" height="16.3" stroke="#FF0000"/>
<rect x="1787.4" y="103.9" width="16.3" height="16.3" stroke="#FF0000"/>
<path d="M1788.3 75.9L1804.5 92.1M1788.3 92.1L1804.5 75.9M1784.9 84.0L1807.9 84.0M1796.4 72.5L1796.4 95.5" stroke="#FF0000"/>
<path d="M1785.6 81.9L1801.8 98.1M1785.6 98.1L1801.8 81.9M1782.2 90.0L1805.2 90.0M1793.7 78.5L1793.7 101.5" stroke="#FF0000"/>
<path d="M1787.4 87.9L1803.6 104.1M1787.4 104.1L1803.6 87.9M1784.0 96.0L1807.0 96.0M1795.5 84.5L1795.5 107.5" stroke="#FF0000"/>
<path d="M1789.2 93.9L1805.4 110.1M1789.2 110.1L1805.4 93.9M1785.8 102.0L1808.8 102.0M1797.3 90.5L1797.3 113.5" stroke="#FF0000"/>
<path d="M1786.5 99.9L1802.7 116.1M1786.5 116.1L1802.7 99.9M1783.1 108.0L1806.1 108.0M1794.6 96.5L1794.6 119.5" stroke="#FF0000"/>
<rect x="1787.4" y="105.6" width="16.3" height="16.3" stroke="#FF0000"/>
<path d="M1787.4 125.7L1803.6 141.9M1787.4 141.9L1803.6 125.7M1784.0 133.8L1807.0 133.8M1795.5 122.3L1795.5 145.3" stroke="#FF0000"/>
<path d="M1787.4 134.1L1803.6 150.3M1787.4 150.3L1803.6 134.1M1784.0 142.2L1807.0 142.2M1795.5 130.7L1795.5 153.7" stroke="#FF0000"/>
<path d="M1803.0 125.7L1814.5 137.2L1803.0 148.7L1791.5 137.2Z" stroke="#FF0000"/>
<path d="M1787.9 184.4L1804.1 200.6M1787.9 200.6L1804.1 184.4M1784.5 192.5L1807.5 192.5M1796.0 181.0L1796.0 204.0" stroke="#FF0000"/>
<path d="M1708.8 294.3L1720.3 305.8L1708.8 317.3L1697.3 305.8Z" stroke="#FF0000"/>
<path d="M1698.7 372.3L1714.9 388.5M1698.7 388.5L1714.9 372.3M1695.3 380.4L1718.3 380.4M1706.8 368.9L1706.8 391.9" stroke="#FF0000"/>
<rect x="1615.6" y="381.3" width="16.3" height="16.3" stroke="#FF0000"/>
<path d="M1673.0 414.3L1684.5 425.8L1673.0 437.3L1661.5 425.8Z" stroke="#FF0000"/>
<path d="M1698.7 611.4L1714.9 627.6M1698.7 627.6L1714.9 611.4M1695.3 619.5L1718.3 619.5M1706.8 608.0L1706.8 631.0" stroke="#FF0000"/>
<rect x="1615.9" y="851.1" width="16.3" height="16.3" stroke="#FF0000"/>
<path d="M1699.6 844.6L1715.8 860.8M1699.6 860.8L1715.8 844.6M1696.2 852.7L1719.2 852.7M1707.7 841.2L1707.7 864.2" stroke="#FF0000"/>
<path d="M1634.2 926.6L1650.4 942.8M1634.2 942.8L1650.4 926.6M1630.8 934.7L1653.8 934.7M1642.3 923.2L1642.3 946.2" stroke="#FF0000"/>
<path d="M1632.9 1175.2L1649.1 1191.4M1632.9 1191.4L1649.1 1175.2M1629.5 1183.3L1652.5 1183.3M1641.0 1171.8L1641.0 1194.8" stroke="#FF0000"/>
<path d="M1665.1 1211.6L1681.3 1227.8M1665.1 1227.8L1681.3 1211.6M1661.7 1219.7L1684.7 1219.7M1673.2 1208.2L1673.2 1231.2" stroke="#FF0000"/>
<path d="M1789.5 1194.1L1805.7 1210.3M1789.5 1210.3L1805.7 1194.1M1786.1 1202.2L1809.1 1202.2M1797.6 1190.7L1797.6 1213.7" stroke="#FF0000"/>
<path d="M1789.5 1221.6L1805.7 1237.8M1789.5 1237.8L1805.7 1221.6M1786.1 1229.7L1809.1 1229.7M1797.6 1218.2L1797.6 1241.2" stroke="#FF0000"/>
<path d="M748.0 90.5L759.5 102.0L748.0 113.5L736.5 102.0Z" stroke="#22FF00"/>
<rect x="879.9" y="1294.9" width="16.3" height="16.3" stroke="#22FF00"/>
<rect x="891.9" y="1294.9" width="16.3" height="16.3" stroke="#22FF00"/>
<path d="M1706.7 1290.6L1718.2 1302.1L1706.7 1313.6L1695.2 1302.1Z" stroke="#FF0000"/>
<rect x="740.9" y="102.9" width="16.3" height="16.3" stroke="#FF0000"/>
<path d="M743.9 87.9L760.1 104.1M743.9 104.1L760.1 87.9M740.5 96.0L763.5 96.0M752.0 84.5L752.0 107.5" stroke="#FF0000"/>
<path d="M519.1 179.5L535.3 195.7M519.1 195.7L535.3 179.5M515.7 187.6L538.7 187.6M527.2 176.1L527.2 199.1" stroke="#0000FF"/>
<path d="M631.4 119.1L647.6 135.3M631.4 135.3L647.6 119.1M628.0 127.2L651.0 127.2M639.5 115.7L639.5 138.7" stroke="#0000FF"/>
<path d="M701.9 134.1L718.1 150.3M701.9 150.3L718.1 134.1M698.5 142.2L721.5 142.2M710.0 130.7L710.0 153.7" stroke="#0000FF"/>
<path d="M914.2 140.3L930.4 156.5M914.2 156.5L930.4 140.3M910.8 148.4L933.8 148.4M922.3 136.9L922.3 159.9" stroke="#0000FF"/>
<path d="M887.9 187.9L904.1 204.1M887.9 204.1L904.1 187.9M884.5 196.0L907.5 196.0M896.0 184.5L896.0 207.5" stroke="#0000FF"/>
<path d="M985.7 86.5L1001.9 102.7M985.7 102.7L1001.9 86.5M982.3 94.6L1005.3 94.6M993.8 83.1L993.8 106.1" stroke="#0000FF"/>
<path d="M981.9 101.1L998.1 117.3M981.9 117.3L998.1 101.1M978.5 109.2L1001.5 109.2M990.0 97.7L990.0 120.7" stroke="#0000FF"/>
<path d="M977.2 162.6L993.4 178.8M977.2 178.8L993.4 162.6M973.8 170.7L996.8 170.7M985.3 159.2L985.3 182.2" stroke="#0000FF"/>
<path d="M984.9 235.6L1001.1 251.8M984.9 251.8L1001.1 235.6M981.5 243.7L1004.5 243.7M993.0 232.2L993.0 255.2" stroke="#0000FF"/>
<path d="M977.2 250.2L993.4 266.4M977.2 266.4L993.4 250.2M973.8 258.3L996.8 258.3M985.3 246.8L985.3 269.8" stroke="#0000FF"/>
<path d="M1056.4 78.0L1072.6 94.2M1056.4 94.2L1072.6 78.0M1053.0 86.1L1076.0 86.1M1064.5 74.6L1064.5 97.6" stroke="#0000FF"/>
<path d="M1046.4 136.5L1062.6 152.7M1046.4 152.7L1062.6 136.5M1043.0 144.6L1066.0 144.6M1054.5 133.1L1054.5 156.1" stroke="#0000FF"/>
<path d="M314.4 482.2L330.6 498.4M314.4 498.4L330.6 482.2M311.0 490.3L334.0 490.3M322.5 478.8L322.5 501.8" stroke="#0000FF"/>
<path d="M911.9 341.9L928.1 358.1M911.9 358.1L928.1 341.9M908.5 350.0L931.5 350.0M920.0 338.5L920.0 361.5" stroke="#0000FF"/>
<path d="M958.1 288.9L974.3 305.1M958.1 305.1L974.3 288.9M954.7 297.0L977.7 297.0M966.2 285.5L966.2 308.5" stroke="#0000FF"/>
<path d="M883.5 568.1L899.7 584.3M883.5 584.3L899.7 568.1M880.1 576.2L903.1 576.2M891.6 564.7L891.6 587.7" stroke="#0000FF"/>
<path d="M518.9 706.9L535.1 723.1M518.9 723.1L535.1 706.9M515.5 715.0L538.5 715.0M527.0 703.5L527.0 726.5" stroke="#0000FF"/>
<path d="M981.4 744.9L997.6 761.1M981.4 761.1L997.6 744.9M978.0 753.0L1001.0 753.0M989.5 741.5L989.5 764.5" stroke="#0000FF"/>
<path d="M744.6 873.2L760.8 889.4M744.6 889.4L760.8 873.2M741.2 881.3L764.2 881.3M752.7 869.8L752.7 892.8" stroke="#0000FF"/>
<path d="M1053.6 971.3L1069.8 987.5M1053.6 987.5L1069.8 971.3M1050.2 979.4L1073.2 979.4M1061.7 967.9L1061.7 990.9" stroke="#0000FF"/>
<path d="M976.6 1023.6L992.8 1039.8M976.6 1039.8L992.8 1023.6M973.2 1031.7L996.2 1031.7M984.7 1020.2L984.7 1043.2" stroke="#0000FF"/>
<path d="M743.4 1229.0L759.6 1245.2M743.4 1245.2L759.6 1229.0M740.0 1237.1L763.0 1237.1M751.5 1225.6L751.5 1248.6" stroke="#0000FF"/>
<path d="M784.3 1294.9L800.5 1311.1M784.3 1311.1L800.5 1294.9M780.9 1303.0L803.9 1303.0M792.4 1291.5L792.4 1314.5" stroke="#0000FF"/>
<path d="M843.6 1053.5L859.8 1069.7M843.6 1069.7L859.8 1053.5M840.2 1061.6L863.2 1061.6M851.7 1050.1L851.7 1073.1" stroke="#0000FF"/>
<path d="M984.3 1048.3L1000.5 1064.5M984.3 1064.5L1000.5 1048.3M980.9 1056.4L1003.9 1056.4M992.4 1044.9L992.4 1067.9" stroke="#0000FF"/>
<path d="M983.7 1197.6L999.9 1213.8M983.7 1213.8L999.9 1197.6M980.3 1205.7L1003.3 1205.7M991.8 1194.2L991.8 1217.2" stroke="#0000FF"/>
<path d="M1023.9 1192.9L1040.1 1209.1M1023.9 1209.1L1040.1 1192.9M1020.5 1201.0L1043.5 1201.0M1032.0 1189.5L1032.0 1212.5" stroke="#0000FF"/>
<path d="M1020.4 1204.3L1036.6 1220.5M1020.4 1220.5L1036.6 1204.3M1017.0 1212.4L1040.0 1212.4M1028.5 1200.9L1028.5 1223.9" stroke="#0000FF"/>
<path d="M973.2 1250.6L989.4 1266.8M973.2 1266.8L989.4 1250.6M969.8 1258.7L992.8 1258.7M981.3 1247.2L981.3 1270.2" stroke="#0000FF"/>
<path d="M1048.3 1264.2L1064.5 1280.4M1048.3 1280.4L1064.5 1264.2M1044.9 1272.3L1067.9 1272.3M1056.4 1260.8L1056.4 1283.8" stroke="#0000FF"/>
<path d="M816.6 1294.9L832.8 1311.1M816.6 1311.1L832.8 1294.9M813.2 1303.0L836.2 1303.0M824.7 1291.5L824.7 1314.5" stroke="#0000FF"/>
<path d="M884.1 1294.9L900.3 1311.1M884.1 1311.1L900.3 1294.9M880.7 1303.0L903.7 1303.0M892.2 1291.5L892.2 1314.5" stroke="#0000FF"/>
<path d="M918.1 1294.9L934.3 1311.1M918.1 1311.1L934.3 1294.9M914.7 1303.0L937.7 1303.0M926.2 1291.5L926.2 1314.5" stroke="#0000FF"/>
<path d="M928.1 1287.3L944.3 1303.5M928.1 1303.5L944.3 1287.3M924.7 1295.4L947.7 1295.4M936.2 1283.9L936.2 1306.9" stroke="#0000FF"/>
<path d="M958.9 1284.6L975.1 1300.8M958.9 1300.8L975.1 1284.6M955.5 1292.7L978.5 1292.7M967.0 1281.2L967.0 1304.2" stroke="#0000FF"/>
<path d="M984.3 1287.7L1000.5 1303.9M984.3 1303.9L1000.5 1287.7M980.9 1295.8L1003.9 1295.8M992.4 1284.3L992.4 1307.3" stroke="#0000FF"/>
<path d="M1020.4 1294.9L1036.6 1311.1M1020.4 1311.1L1036.6 1294.9M1017.0 1303.0L1040.0 1303.0M1028.5 1291.5L1028.5 1314.5" stroke="#0000FF"/>
<path d="M1024.6 1294.9L1040.8 1311.1M1024.6 1311.1L1040.8 1294.9M1021.2 1303.0L1044.2 1303.0M1032.7 1291.5L1032.7 1314.5" stroke="#0000FF"/>
<path d="M1383.6 380.9L1399.8 397.1M1383.6 397.1L1399.8 380.9M1380.2 389.0L1403.2 389.0M1391.7 377.5L1391.7 400.5" stroke="#0000FF"/>
<path d="M1383.4 1293.6L1399.6 1309.8M1383.4 1309.8L1399.6 1293.6M1380.0 1301.7L1403.0 1301.7M1391.5 1290.2L1391.5 1313.2" stroke="#0000FF"/>
<path d="M1633.1 114.0L1649.3 130.2M1633.1 130.2L1649.3 114.0M1629.7 122.1L1652.7 122.1M1641.2 110.6L1641.2 133.6" stroke="#0000FF"/>
<path d="M1616.3 131.6L1632.5 147.8M1616.3 147.8L1632.5 131.6M1612.9 139.7L1635.9 139.7M1624.4 128.2L1624.4 151.2" stroke="#0000FF"/>
<path d="M1618.0 171.9L1634.2 188.1M1618.0 188.1L1634.2 171.9M1614.6 180.0L1637.6 180.0M1626.1 168.5L1626.1 191.5" stroke="#0000FF"/>
<path d="M1618.5 218.8L1634.7 235.0M1618.5 235.0L1634.7 218.8M1615.1 226.9L1638.1 226.9M1626.6 215.4L1626.6 238.4" stroke="#0000FF"/>
<path d="M1667.8 129.9L1684.0 146.1M1667.8 146.1L1684.0 129.9M1664.4 138.0L1687.4 138.0M1675.9 126.5L1675.9 149.5" stroke="#0000FF"/>
<path d="M1665.5 283.4L1681.7 299.6M1665.5 299.6L1681.7 283.4M1662.1 291.5L1685.1 291.5M1673.6 280.0L1673.6 303.0" stroke="#0000FF"/>
<path d="M1700.4 179.4L1716.6 195.6M1700.4 195.6L1716.6 179.4M1697.0 187.5L1720.0 187.5M1708.5 176.0L1708.5 199.0" stroke="#0000FF"/>
<path d="M1631.8 329.7L1648.0 345.9M1631.8 345.9L1648.0 329.7M1628.4 337.8L1651.4 337.8M1639.9 326.3L1639.9 349.3" stroke="#0000FF"/>
<path d="M1789.4 402.5L1805.6 418.7M1789.4 418.7L1805.6 402.5M1786.0 410.6L1809.0 410.6M1797.5 399.1L1797.5 422.1" stroke="#0000FF"/>
<path d="M1699.3 560.9L1715.5 577.1M1699.3 577.1L1715.5 560.9M1695.9 569.0L1718.9 569.0M1707.4 557.5L1707.4 580.5" stroke="#0000FF"/>
<path d="M1789.4 726.6L1805.6 742.8M1789.4 742.8L1805.6 726.6M1786.0 734.7L1809.0 734.7M1797.5 723.2L1797.5 746.2" stroke="#0000FF"/>
<path d="M1631.7 771.9L1647.9 788.1M1631.7 788.1L1647.9 771.9M1628.3 780.0L1651.3 780.0M1639.8 768.5L1639.8 791.5" stroke="#0000FF"/>
<path d="M2030.9 919.1L2047.1 935.3M2030.9 935.3L2047.1 919.1M2027.5 927.2L2050.5 927.2M2039.0 915.7L2039.0 938.7" stroke="#0000FF"/>
<path d="M1615.4 1027.2L1631.6 1043.4M1615.4 1043.4L1631.6 1027.2M1612.0 1035.3L1635.0 1035.3M1623.5 1023.8L1623.5 1046.8" stroke="#0000FF"/>
<path d="M1667.6 1179.1L1683.8 1195.3M1667.6 1195.3L1683.8 1179.1M1664.2 1187.2L1687.2 1187.2M1675.7 1175.7L1675.7 1198.7" stroke="#0000FF"/>
<path d="M1633.2 1196.9L1649.4 1213.1M1633.2 1213.1L1649.4 1196.9M1629.8 1205.0L1652.8 1205.0M1641.3 1193.5L1641.3 1216.5" stroke="#0000FF"/>
<path d="M1700.3 1236.7L1716.5 1252.9M1700.3 1252.9L1716.5 1236.7M1696.9 1244.8L1719.9 1244.8M1708.4 1233.3L1708.4 1256.3" stroke="#0000FF"/>
<path d="M1788.8 1287.8L1805.0 1304.0M1788.8 1304.0L1805.0 1287.8M1785.4 1295.9L1808.4 1295.9M1796.9 1284.4L1796.9 1307.4" stroke="#0000FF"/>
</g>
<rect x="182.00" y="24.00" width="2039.60" height="1338.90" fill="none" stroke="#222" stroke-width="2.2"/>
<line x1="169.40" y1="1303.06" x2="180.90" y2="1303.06" stroke="#333" stroke-width="4.4"/>
<text x="159" y="1316.06" font-size="36.67" fill="#363636" text-anchor="end">0.00</text>
<line x1="169.40" y1="998.26" x2="180.90" y2="998.26" stroke="#333" stroke-width="4.4"/>
<text x="159" y="1011.26" font-size="36.67" fill="#363636" text-anchor="end">0.25</text>
<line x1="169.40" y1="693.46" x2="180.90" y2="693.46" stroke="#333" stroke-width="4.4"/>
<text x="159" y="706.46" font-size="36.67" fill="#363636" text-anchor="end">0.50</text>
<line x1="169.40" y1="388.66" x2="180.90" y2="388.66" stroke="#333" stroke-width="4.4"/>
<text x="159" y="401.66" font-size="36.67" fill="#363636" text-anchor="end">0.75</text>
<line x1="169.40" y1="83.86" x2="180.90" y2="83.86" stroke="#333" stroke-width="4.4"/>
<text x="159" y="96.86" font-size="36.67" fill="#363636" text-anchor="end">1.00</text>
<line x1="237.73" y1="1364.00" x2="237.73" y2="1375.50" stroke="#333" stroke-width="4.4"/>
<text x="237.73" y="1411.8" font-size="36.67" fill="#363636" text-anchor="middle">29,530,000</text>
<line x1="738.13" y1="1364.00" x2="738.13" y2="1375.50" stroke="#333" stroke-width="4.4"/>
<text x="738.13" y="1411.8" font-size="36.67" fill="#363636" text-anchor="middle">29,550,000</text>
<line x1="1238.53" y1="1364.00" x2="1238.53" y2="1375.50" stroke="#333" stroke-width="4.4"/>
<text x="1238.53" y="1411.8" font-size="36.67" fill="#363636" text-anchor="middle">29,570,000</text>
<line x1="1738.93" y1="1364.00" x2="1738.93" y2="1375.50" stroke="#333" stroke-width="4.4"/>
<text x="1738.93" y="1411.8" font-size="36.67" fill="#363636" text-anchor="middle">29,590,000</text>
<text x="1201.80" y="1466.9" font-size="45.83" fill="#000" text-anchor="middle">Genomic location of LINC00589 (GRCh37 chr8:29531438-29605625, gray = exons)</text>
<text transform="translate(55,693.45) rotate(-90)" x="0" y="0" font-size="45.83" fill="#000" text-anchor="middle">CAPICE score (pathogenicity estimate)</text>
<text x="2294" y="412.7" font-size="45.83" fill="#000">Source</text>
<g fill="none" stroke-width="2.95" stroke-linecap="round" stroke-linejoin="round">
<path d="M2329.4 454.3L2340.9 465.8L2329.4 477.3L2317.9 465.8Z" stroke="#000000"/>
<rect x="2321.3" y="530.2" width="16.3" height="16.3" stroke="#000000"/>
<path d="M2321.3 602.7L2337.5 618.9M2321.3 618.9L2337.5 602.7M2317.9 610.8L2340.9 610.8M2329.4 599.3L2329.4 622.3" stroke="#000000"/>
</g>
<text x="2374.8" y="478.80" font-size="36.67" fill="#000">CAPICE Testing</text>
<text x="2374.8" y="551.30" font-size="36.67" fill="#000">CAPICE Training</text>
<text x="2374.8" y="623.80" font-size="36.67" fill="#000">VKGL Oct. 2019</text>
<text x="2294" y="773" font-size="45.83" fill="#000">Classification</text>
<circle cx="2329.4" cy="826.80" r="8.14" fill="#22FF00" stroke="#22FF00" stroke-width="2.95"/>
<text x="2374.8" y="839.80" font-size="36.67" fill="#000">LB/B</text>
<circle cx="2329.4" cy="899.30" r="8.14" fill="#FF0000" stroke="#FF0000" stroke-width="2.95"/>
<text x="2374.8" y="912.30" font-size="36.67" fill="#000">LP/P</text>
<circle cx="2329.4" cy="971.80" r="8.14" fill="#0000FF" stroke="#0000FF" stroke-width="2.95"/>
<text x="2374.8" y="984.80" font-size="36.67" fill="#000">VUS</text>
</svg></body></html>
